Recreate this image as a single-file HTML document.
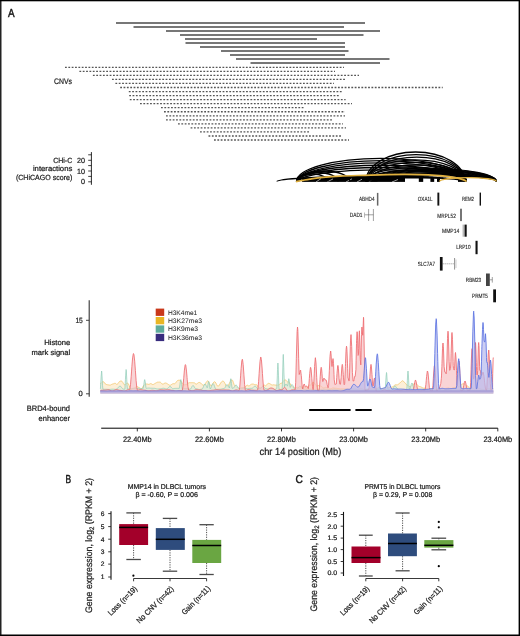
<!DOCTYPE html>
<html><head><meta charset="utf-8"><style>
html,body{margin:0;padding:0;background:#fff;}
svg{display:block;will-change:transform;}
text{font-family:"Liberation Sans", sans-serif;text-rendering:geometricPrecision;stroke:#1a1a1a;stroke-width:0.22px;}
</style></head><body>
<svg width="520" height="636" viewBox="0 0 520 636">
<rect x="0" y="0" width="520" height="636" fill="#fff"/>
<rect x="0" y="0" width="1.5" height="636" fill="#222"/>
<rect x="0" y="0" width="520" height="1.3" fill="#000"/>
<rect x="518.6" y="0" width="1.4" height="636" fill="#000"/>
<rect x="0" y="634.5" width="520" height="1.5" fill="#000"/>
<text x="8" y="17" font-size="11.5" text-anchor="start" fill="#111" textLength="6.6" lengthAdjust="spacingAndGlyphs" style="stroke-width:0.45px">A</text>
<line x1="116" y1="23" x2="365" y2="23" stroke="#4a4a4a" stroke-width="1.3"/>
<line x1="133.5" y1="27" x2="344" y2="27" stroke="#4a4a4a" stroke-width="1.3"/>
<line x1="166" y1="31" x2="380" y2="31" stroke="#4a4a4a" stroke-width="1.3"/>
<line x1="180" y1="35" x2="363.5" y2="35" stroke="#4a4a4a" stroke-width="1.3"/>
<line x1="185" y1="39" x2="317" y2="39" stroke="#4a4a4a" stroke-width="1.3"/>
<line x1="185.5" y1="43" x2="345" y2="43" stroke="#4a4a4a" stroke-width="1.3"/>
<line x1="200" y1="47" x2="345" y2="47" stroke="#4a4a4a" stroke-width="1.3"/>
<line x1="221" y1="51" x2="348.5" y2="51" stroke="#4a4a4a" stroke-width="1.3"/>
<line x1="230" y1="55" x2="345" y2="55" stroke="#4a4a4a" stroke-width="1.3"/>
<line x1="236" y1="59" x2="389.5" y2="59" stroke="#4a4a4a" stroke-width="1.3"/>
<line x1="250.5" y1="63" x2="380" y2="63" stroke="#4a4a4a" stroke-width="1.3"/>
<line x1="65" y1="67.30" x2="344" y2="67.30" stroke="#555" stroke-width="1.3" stroke-dasharray="1.8 1.55"/>
<line x1="79.4" y1="71.34" x2="335" y2="71.34" stroke="#555" stroke-width="1.3" stroke-dasharray="1.8 1.55"/>
<line x1="92.9" y1="75.38" x2="359" y2="75.38" stroke="#555" stroke-width="1.3" stroke-dasharray="1.8 1.55"/>
<line x1="112" y1="79.42" x2="345" y2="79.42" stroke="#555" stroke-width="1.3" stroke-dasharray="1.8 1.55"/>
<line x1="115.4" y1="83.46" x2="334" y2="83.46" stroke="#555" stroke-width="1.3" stroke-dasharray="1.8 1.55"/>
<line x1="120.2" y1="87.50" x2="442.7" y2="87.50" stroke="#555" stroke-width="1.3" stroke-dasharray="1.8 1.55"/>
<line x1="128.8" y1="91.54" x2="342" y2="91.54" stroke="#555" stroke-width="1.3" stroke-dasharray="1.8 1.55"/>
<line x1="129.2" y1="95.58" x2="339" y2="95.58" stroke="#555" stroke-width="1.3" stroke-dasharray="1.8 1.55"/>
<line x1="129.8" y1="99.62" x2="345.6" y2="99.62" stroke="#555" stroke-width="1.3" stroke-dasharray="1.8 1.55"/>
<line x1="140" y1="103.66" x2="352" y2="103.66" stroke="#555" stroke-width="1.3" stroke-dasharray="1.8 1.55"/>
<line x1="161" y1="107.70" x2="304" y2="107.70" stroke="#555" stroke-width="1.3" stroke-dasharray="1.8 1.55"/>
<line x1="164" y1="111.74" x2="345" y2="111.74" stroke="#555" stroke-width="1.3" stroke-dasharray="1.8 1.55"/>
<line x1="166" y1="115.78" x2="345" y2="115.78" stroke="#555" stroke-width="1.3" stroke-dasharray="1.8 1.55"/>
<line x1="166" y1="119.82" x2="332" y2="119.82" stroke="#555" stroke-width="1.3" stroke-dasharray="1.8 1.55"/>
<line x1="178" y1="123.86" x2="343" y2="123.86" stroke="#555" stroke-width="1.3" stroke-dasharray="1.8 1.55"/>
<line x1="190.6" y1="127.90" x2="346" y2="127.90" stroke="#555" stroke-width="1.3" stroke-dasharray="1.8 1.55"/>
<line x1="200" y1="131.94" x2="309" y2="131.94" stroke="#555" stroke-width="1.3" stroke-dasharray="1.8 1.55"/>
<line x1="208.5" y1="135.98" x2="342" y2="135.98" stroke="#555" stroke-width="1.3" stroke-dasharray="1.8 1.55"/>
<line x1="214" y1="140.02" x2="349" y2="140.02" stroke="#555" stroke-width="1.3" stroke-dasharray="1.8 1.55"/>
<text x="54" y="83.75" font-size="8" text-anchor="start" fill="#222" textLength="18" lengthAdjust="spacingAndGlyphs" >CNVs</text>
<text x="72.2" y="163" font-size="7.5" text-anchor="end" fill="#222" textLength="19" lengthAdjust="spacingAndGlyphs" >CHi-C</text>
<text x="72.3" y="171.2" font-size="7.5" text-anchor="end" fill="#222" textLength="39.4" lengthAdjust="spacingAndGlyphs" >interactions</text>
<text x="72.3" y="179.6" font-size="7.5" text-anchor="end" fill="#222" textLength="56.4" lengthAdjust="spacingAndGlyphs" >(CHiCAGO score)</text>
<text x="85" y="163" font-size="7.5" text-anchor="end" fill="#222" textLength="8" lengthAdjust="spacingAndGlyphs" >20</text>
<text x="85" y="173.6" font-size="7.5" text-anchor="end" fill="#222" textLength="8" lengthAdjust="spacingAndGlyphs" >10</text>
<text x="85" y="184.4" font-size="7.5" text-anchor="end" fill="#222" textLength="4" lengthAdjust="spacingAndGlyphs" >0</text>
<line x1="91.4" y1="152.1" x2="91.4" y2="184.8" stroke="#111" stroke-width="0.9"/>
<line x1="88.2" y1="154.8" x2="91.4" y2="154.8" stroke="#111" stroke-width="0.8"/>
<line x1="88.2" y1="160.3" x2="91.4" y2="160.3" stroke="#111" stroke-width="0.8"/>
<line x1="88.2" y1="165.6" x2="91.4" y2="165.6" stroke="#111" stroke-width="0.8"/>
<line x1="88.2" y1="171" x2="91.4" y2="171" stroke="#111" stroke-width="0.8"/>
<line x1="88.2" y1="176.4" x2="91.4" y2="176.4" stroke="#111" stroke-width="0.8"/>
<line x1="88.2" y1="181.8" x2="91.4" y2="181.8" stroke="#111" stroke-width="0.8"/>
<path d="M299.0,180.36 L299.5,180.22 L300.0,180.08 L300.5,179.96 L301.0,179.84 L301.5,179.73 L302.0,179.62 L302.5,179.52 L303.0,179.43 L303.5,179.33 L304.0,179.24 L304.5,179.16 L305.0,179.07 L305.5,178.99 L306.0,178.91 L306.5,178.84 L307.0,178.77 L307.5,178.69 L308.0,178.62 L308.5,178.56 L309.0,178.49 L309.5,178.42 L310.0,178.36 L310.5,178.30 L311.0,178.24 L311.5,178.18 L312.0,178.12 L312.5,178.07 L313.0,178.01 L313.5,177.96 L314.0,177.90 L314.5,177.85 L315.0,177.80 L315.5,177.75 L316.0,177.70 L316.5,177.65 L317.0,177.60 L317.5,177.56 L318.0,177.51 L318.5,177.47 L319.0,177.42 L319.5,177.38 L320.0,177.34 L320.5,177.30 L321.0,177.25 L321.5,177.21 L322.0,177.17 L322.5,177.13 L323.0,177.10 L323.5,177.06 L324.0,177.02 L324.5,176.98 L325.0,176.95 L325.5,176.91 L326.0,176.88 L326.5,176.84 L327.0,176.81 L327.5,176.77 L328.0,176.74 L328.5,176.71 L329.0,176.68 L329.5,176.64 L330.0,176.61 L330.5,176.58 L331.0,176.55 L331.5,176.52 L332.0,176.49 L332.5,176.46 L333.0,176.44 L333.5,176.41 L334.0,176.38 L334.5,176.35 L335.0,176.33 L335.5,176.30 L336.0,176.27 L336.5,176.25 L337.0,176.22 L337.5,176.20 L338.0,176.17 L338.5,176.15 L339.0,176.13 L339.5,176.10 L340.0,176.08 L340.5,176.06 L341.0,176.04 L341.5,176.01 L342.0,175.99 L342.5,175.97 L343.0,175.95 L343.5,175.93 L344.0,175.91 L344.5,175.89 L345.0,175.87 L345.5,175.85 L346.0,175.83 L346.5,175.81 L347.0,175.80 L347.5,175.78 L348.0,175.76 L348.5,175.74 L349.0,175.73 L349.5,175.71 L350.0,175.69 L350.5,175.68 L351.0,175.66 L351.5,175.65 L352.0,175.63 L352.5,175.61 L353.0,175.60 L353.5,175.59 L354.0,175.57 L354.5,175.56 L355.0,175.54 L355.5,175.53 L356.0,175.52 L356.5,175.51 L357.0,175.49 L357.5,175.48 L358.0,175.47 L358.5,175.46 L359.0,175.45 L359.5,175.44 L360.0,175.42 L360.5,175.41 L361.0,175.40 L361.5,175.39 L362.0,175.38 L362.5,175.38 L363.0,175.37 L363.5,175.36 L364.0,175.35 L364.5,175.34 L365.0,175.33 L365.5,175.32 L366.0,175.32 L366.5,175.31 L367.0,175.30 L367.5,175.29 L368.0,175.29 L368.5,175.28 L369.0,175.28 L369.5,175.27 L370.0,175.26 L370.5,175.26 L371.0,175.25 L371.5,175.25 L372.0,175.24 L372.5,175.24 L373.0,175.23 L373.5,175.23 L374.0,175.23 L374.5,175.22 L375.0,175.22 L375.5,175.22 L376.0,175.21 L376.5,175.21 L377.0,175.21 L377.5,175.21 L378.0,175.21 L378.5,175.20 L379.0,175.20 L379.5,175.20 L380.0,175.20 L380.5,175.20 L381.0,175.20 L381.5,175.20 L382.0,175.20 L382.5,175.20 L383.0,175.20 L383.5,175.20 L384.0,175.20 L384.5,175.20 L385.0,175.21 L385.5,175.21 L386.0,175.21 L386.5,175.21 L387.0,175.21 L387.5,175.22 L388.0,175.22 L388.5,175.22 L389.0,175.23 L389.5,175.23 L390.0,175.23 L390.5,175.24 L391.0,175.24 L391.5,175.25 L392.0,175.25 L392.5,175.26 L393.0,175.26 L393.5,175.27 L394.0,175.28 L394.5,175.28 L395.0,175.29 L395.5,175.29 L396.0,175.30 L396.5,175.31 L397.0,175.32 L397.5,175.32 L398.0,175.33 L398.5,175.34 L399.0,175.35 L399.5,175.36 L400.0,175.37 L400.5,175.38 L401.0,175.38 L401.5,175.39 L402.0,175.40 L402.5,175.41 L403.0,175.42 L403.5,175.44 L404.0,175.45 L404.5,175.46 L405.0,175.47 L405.5,175.48 L406.0,175.49 L406.5,175.51 L407.0,175.52 L407.5,175.53 L408.0,175.54 L408.5,175.56 L409.0,175.57 L409.5,175.59 L410.0,175.60 L410.5,175.61 L411.0,175.63 L411.5,175.65 L412.0,175.66 L412.5,175.68 L413.0,175.69 L413.5,175.71 L414.0,175.73 L414.5,175.74 L415.0,175.76 L415.5,175.78 L416.0,175.80 L416.5,175.81 L417.0,175.83 L417.5,175.85 L418.0,175.87 L418.5,175.89 L419.0,175.91 L419.5,175.93 L420.0,175.95 L420.5,175.97 L421.0,175.99 L421.5,176.01 L422.0,176.04 L422.5,176.06 L423.0,176.08 L423.5,176.10 L424.0,176.13 L424.5,176.15 L425.0,176.17 L425.5,176.20 L426.0,176.22 L426.5,176.25 L427.0,176.27 L427.5,176.30 L428.0,176.33 L428.5,176.35 L429.0,176.38 L429.5,176.41 L430.0,176.44 L430.5,176.46 L431.0,176.49 L431.5,176.52 L432.0,176.55 L432.5,176.58 L433.0,176.61 L433.5,176.64 L434.0,176.68 L434.5,176.71 L435.0,176.74 L435.5,176.77 L436.0,176.81 L436.5,176.84 L437.0,176.88 L437.5,176.91 L438.0,176.95 L438.5,176.98 L439.0,177.02 L439.5,177.06 L440.0,177.10 L440.5,177.13 L441.0,177.17 L441.5,177.21 L442.0,177.25 L442.5,177.30 L443.0,177.34 L443.5,177.38 L444.0,177.42 L444.5,177.47 L445.0,177.51 L445.5,177.56 L446.0,177.60 L446.5,177.65 L447.0,177.70 L447.5,177.75 L448.0,177.80 L448.5,177.85 L449.0,177.90 L449.5,177.96 L450.0,178.01 L450.5,178.07 L451.0,178.12 L451.5,178.18 L452.0,178.24 L452.5,178.30 L453.0,178.36 L453.5,178.42 L454.0,178.49 L454.5,178.56 L455.0,178.62 L455.5,178.69 L456.0,178.77 L456.5,178.84 L457.0,178.91 L457.5,178.99 L458.0,179.07 L458.5,179.16 L459.0,179.24 L459.5,179.33 L460.0,179.43 L460.5,179.52 L461.0,179.62 L461.5,179.73 L462.0,179.84 L462.5,179.96 L463.0,180.08 L463.5,180.22 L464.0,180.36 L464.5,180.52 L465.0,180.69 L465.5,180.89 L466.0,181.13 L466.5,181.44 L467.0,182.20 L467,178.6 L299,178.6 Z" fill="#000"/>
<rect x="302" y="177.5" width="103" height="4.4" fill="#000"/>
<rect x="418.8" y="177.5" width="4.399999999999977" height="4.4" fill="#000"/>
<rect x="430.4" y="177.5" width="3.8000000000000114" height="4.4" fill="#000"/>
<rect x="437" y="177.5" width="3" height="4.4" fill="#000"/>
<rect x="458" y="177.5" width="8" height="4.4" fill="#000"/>
<line x1="316" y1="182" x2="321" y2="178.6" stroke="#fff" stroke-width="0.6"/>
<line x1="327" y1="182" x2="333" y2="178.9" stroke="#fff" stroke-width="0.6"/>
<line x1="346" y1="182" x2="352" y2="178.8" stroke="#fff" stroke-width="0.6"/>
<line x1="357" y1="182" x2="362" y2="179.2" stroke="#fff" stroke-width="0.6"/>
<line x1="368" y1="182" x2="374" y2="179" stroke="#fff" stroke-width="0.6"/>
<line x1="392" y1="182" x2="398" y2="179.5" stroke="#fff" stroke-width="0.6"/>
<path d="M366.0,181.6 A65.25,13.10 0 0 1 496.5,181.6" fill="none" stroke="#000" stroke-width="1.2" stroke-opacity="1"/>
<path d="M367.2,181.6 A64.65,12.30 0 0 1 496.5,181.6" fill="none" stroke="#000" stroke-width="1.2" stroke-opacity="1"/>
<path d="M368.4,181.6 A64.05,11.50 0 0 1 496.5,181.6" fill="none" stroke="#000" stroke-width="1.2" stroke-opacity="1"/>
<path d="M369.6,181.6 A63.45,10.70 0 0 1 496.5,181.6" fill="none" stroke="#000" stroke-width="1.2" stroke-opacity="1"/>
<path d="M370.8,181.6 A62.85,9.90 0 0 1 496.5,181.6" fill="none" stroke="#000" stroke-width="1.2" stroke-opacity="1"/>
<path d="M372.0,181.6 A62.25,9.10 0 0 1 496.5,181.6" fill="none" stroke="#000" stroke-width="1.2" stroke-opacity="1"/>
<path d="M373.2,181.6 A61.65,8.30 0 0 1 496.5,181.6" fill="none" stroke="#000" stroke-width="1.2" stroke-opacity="1"/>
<path d="M374.4,181.6 A61.05,7.50 0 0 1 496.5,181.6" fill="none" stroke="#000" stroke-width="1.2" stroke-opacity="1"/>
<path d="M375.6,181.6 A60.45,6.70 0 0 1 496.5,181.6" fill="none" stroke="#000" stroke-width="1.2" stroke-opacity="1"/>
<path d="M376.8,181.6 A59.85,5.90 0 0 1 496.5,181.6" fill="none" stroke="#000" stroke-width="1.2" stroke-opacity="1"/>
<path d="M296.5,181.6 A84.25,23.30 0 0 1 465,181.6" fill="none" stroke="#000" stroke-width="1.35" stroke-opacity="1"/>
<path d="M297.5,181.6 A83.75,21.00 0 0 1 465,181.6" fill="none" stroke="#000" stroke-width="1.35" stroke-opacity="1"/>
<path d="M298.5,181.6 A83.25,18.70 0 0 1 465,181.6" fill="none" stroke="#000" stroke-width="1.35" stroke-opacity="1"/>
<path d="M296.5,181.6 A84.25,16.40 0 0 1 465,181.6" fill="none" stroke="#000" stroke-width="1.35" stroke-opacity="1"/>
<path d="M297.5,181.6 A83.75,14.10 0 0 1 465,181.6" fill="none" stroke="#000" stroke-width="1.35" stroke-opacity="1"/>
<path d="M298.5,181.6 A83.25,11.80 0 0 1 465,181.6" fill="none" stroke="#000" stroke-width="1.35" stroke-opacity="1"/>
<path d="M366.0,181.6 A49.50,29.60 0 0 1 465,181.6" fill="none" stroke="#000" stroke-width="1.3" stroke-opacity="1"/>
<path d="M367.2,181.6 A48.90,27.00 0 0 1 465,181.6" fill="none" stroke="#000" stroke-width="1.3" stroke-opacity="1"/>
<path d="M368.4,181.6 A48.30,24.40 0 0 1 465,181.6" fill="none" stroke="#000" stroke-width="1.3" stroke-opacity="1"/>
<path d="M366.0,181.6 A49.50,21.80 0 0 1 465,181.6" fill="none" stroke="#000" stroke-width="1.3" stroke-opacity="1"/>
<path d="M367.2,181.6 A48.90,19.20 0 0 1 465,181.6" fill="none" stroke="#000" stroke-width="1.3" stroke-opacity="1"/>
<path d="M368.4,181.6 A48.30,16.60 0 0 1 465,181.6" fill="none" stroke="#000" stroke-width="1.3" stroke-opacity="1"/>
<path d="M366.0,181.6 A49.50,14.00 0 0 1 465,181.6" fill="none" stroke="#000" stroke-width="1.3" stroke-opacity="1"/>
<path d="M367.2,181.6 A48.90,11.40 0 0 1 465,181.6" fill="none" stroke="#000" stroke-width="1.3" stroke-opacity="1"/>
<path d="M277,181.6 A94.00,5.10 0 0 1 465,181.6" fill="none" stroke="#000" stroke-width="1.3" stroke-opacity="1"/>
<path d="M297,181.6 A15.50,7.60 0 0 1 328,181.6" fill="none" stroke="#000" stroke-width="1.3" stroke-opacity="1"/>
<path d="M297,181.6 A20.50,9.10 0 0 1 338,181.6" fill="none" stroke="#000" stroke-width="1.3" stroke-opacity="1"/>
<path d="M298,181.6 A26.00,10.60 0 0 1 350,181.6" fill="none" stroke="#000" stroke-width="1.3" stroke-opacity="1"/>
<path d="M296,181.6 C297.17,181.38 300.67,180.72 303,180.3 C305.33,179.88 306.67,179.58 310,179.1 C313.33,178.62 318.00,177.90 323,177.4 C328.00,176.90 333.00,176.45 340,176.1 C347.00,175.75 358.33,175.52 365,175.3 C371.67,175.08 373.33,174.95 380,174.8 C386.67,174.65 398.33,174.42 405,174.4 C411.67,174.38 415.00,174.53 420,174.7 C425.00,174.87 430.17,175.08 435,175.4 C439.83,175.72 445.17,176.15 449,176.6 C452.83,177.05 455.67,177.60 458,178.1 C460.33,178.60 461.58,179.05 463,179.6 C464.42,180.15 465.92,181.10 466.5,181.4" fill="none" stroke="#e0b03e" stroke-width="1.7"/>
<path d="M439.5,181.6 A28.50,4.00 0 0 1 496.5,181.6" fill="none" stroke="#e0b03e" stroke-width="1.4" stroke-opacity="1"/>
<text x="359" y="200.95" font-size="6.0" text-anchor="start" fill="#222" textLength="15.6" lengthAdjust="spacingAndGlyphs" style="stroke-width:0.12px">ABHD4</text>
<rect x="376.9" y="192.9" width="1.5" height="12.699999999999989" fill="#666"/>
<text x="417.8" y="200.95" font-size="6.0" text-anchor="start" fill="#222" textLength="14.7" lengthAdjust="spacingAndGlyphs" style="stroke-width:0.12px">OXA1L</text>
<rect x="437.4" y="192.6" width="1.900000000000034" height="13.0" fill="#111"/>
<text x="461.9" y="200.95" font-size="6.0" text-anchor="start" fill="#222" textLength="12.1" lengthAdjust="spacingAndGlyphs" style="stroke-width:0.12px">REM2</text>
<rect x="479.6" y="192.6" width="1.3999999999999773" height="13.0" fill="#111"/>
<text x="437.3" y="217.54999999999998" font-size="6.0" text-anchor="start" fill="#222" textLength="18.5" lengthAdjust="spacingAndGlyphs" style="stroke-width:0.12px">MRPL52</text>
<rect x="460.2" y="208.7" width="1.6000000000000227" height="12.400000000000006" fill="#555"/>
<text x="442" y="233.45" font-size="6.0" text-anchor="start" fill="#222" textLength="17.3" lengthAdjust="spacingAndGlyphs" style="stroke-width:0.12px">MMP14</text>
<rect x="464.5" y="224.6" width="2.1999999999999886" height="12.099999999999994" fill="#111"/>
<line x1="463.2" y1="224.6" x2="463.2" y2="236.7" stroke="#333" stroke-width="0.5"/>
<text x="456.2" y="249.45" font-size="6.0" text-anchor="start" fill="#222" textLength="14.4" lengthAdjust="spacingAndGlyphs" style="stroke-width:0.12px">LRP10</text>
<rect x="475.5" y="240.8" width="2.1000000000000227" height="13.399999999999977" fill="#111"/>
<text x="417.7" y="265.75" font-size="6.0" text-anchor="start" fill="#222" textLength="17.3" lengthAdjust="spacingAndGlyphs" style="stroke-width:0.12px">SLC7A7</text>
<rect x="439.9" y="257" width="2.7000000000000455" height="13.600000000000023" fill="#111"/>
<line x1="442.6" y1="263.8" x2="454.6" y2="263.8" stroke="#444" stroke-width="0.5" stroke-dasharray="1.2 0.8"/>
<line x1="454.6" y1="258" x2="454.6" y2="269.6" stroke="#444" stroke-width="0.6"/>
<line x1="456" y1="259.5" x2="456" y2="268" stroke="#999" stroke-width="0.5"/>
<text x="465.8" y="281.75" font-size="6.0" text-anchor="start" fill="#222" textLength="15.4" lengthAdjust="spacingAndGlyphs" style="stroke-width:0.12px">RBM23</text>
<rect x="486" y="273.5" width="3.8000000000000114" height="12.5" fill="#444"/>
<line x1="489.8" y1="279.8" x2="492.3" y2="279.8" stroke="#444" stroke-width="0.5"/>
<line x1="492.3" y1="277" x2="492.3" y2="282.6" stroke="#444" stroke-width="0.5"/>
<text x="472" y="297.95" font-size="6.0" text-anchor="start" fill="#222" textLength="16" lengthAdjust="spacingAndGlyphs" style="stroke-width:0.12px">PRMT5</text>
<rect x="493.2" y="289.4" width="2.8000000000000114" height="12.900000000000034" fill="#111"/>
<text x="349.8" y="216.7" font-size="6.0" text-anchor="start" fill="#222" textLength="12.7" lengthAdjust="spacingAndGlyphs" style="stroke-width:0.12px">DAD1</text>
<line x1="364.5" y1="212.5" x2="364.5" y2="217.7" stroke="#888" stroke-width="0.6"/>
<line x1="364.8" y1="214.8" x2="373.4" y2="214.8" stroke="#444" stroke-width="0.5"/>
<line x1="368.6" y1="209" x2="368.6" y2="221" stroke="#444" stroke-width="0.5"/>
<line x1="373.4" y1="209" x2="373.4" y2="221" stroke="#444" stroke-width="0.5"/>
<text x="70.2" y="345.4" font-size="7.5" text-anchor="end" fill="#222" textLength="26" lengthAdjust="spacingAndGlyphs" >Histone</text>
<text x="70.2" y="354.6" font-size="7.5" text-anchor="end" fill="#222" textLength="38.7" lengthAdjust="spacingAndGlyphs" >mark signal</text>
<line x1="89.2" y1="300.2" x2="89.2" y2="396.8" stroke="#333" stroke-width="1.1"/>
<line x1="86" y1="320.3" x2="89.2" y2="320.3" stroke="#333" stroke-width="0.9"/>
<line x1="86" y1="393.8" x2="89.2" y2="393.8" stroke="#333" stroke-width="0.9"/>
<text x="82.8" y="322.9" font-size="7.5" text-anchor="end" fill="#222" textLength="7.4" lengthAdjust="spacingAndGlyphs" >15</text>
<text x="82.8" y="396.4" font-size="7.5" text-anchor="end" fill="#222" textLength="4.2" lengthAdjust="spacingAndGlyphs" >0</text>
<rect x="155.7" y="308.6" width="8.5" height="7.3" fill="#c9381a"/>
<text x="167.9" y="314.5" font-size="6.6" text-anchor="start" fill="#2a2a2a" textLength="29.4" lengthAdjust="spacingAndGlyphs" style="stroke-width:0.05px">H3K4me1</text>
<rect x="155.7" y="317.0" width="8.5" height="7.3" fill="#e9b625"/>
<text x="167.9" y="322.85" font-size="6.6" text-anchor="start" fill="#2a2a2a" textLength="34.1" lengthAdjust="spacingAndGlyphs" style="stroke-width:0.05px">H3K27me3</text>
<rect x="155.7" y="325.4" width="8.5" height="7.3" fill="#5fac9c"/>
<text x="167.9" y="331.2" font-size="6.6" text-anchor="start" fill="#2a2a2a" textLength="30" lengthAdjust="spacingAndGlyphs" style="stroke-width:0.05px">H3K9me3</text>
<rect x="155.7" y="333.8" width="8.5" height="7.3" fill="#382c7e"/>
<text x="167.9" y="339.55" font-size="6.6" text-anchor="start" fill="#2a2a2a" textLength="34.1" lengthAdjust="spacingAndGlyphs" style="stroke-width:0.05px">H3K36me3</text>
<path d="M100.40,383.48 L101.10,383.17 L101.80,382.46 L102.50,381.79 L103.20,381.60 L103.90,382.06 L104.60,382.95 L105.30,383.86 L106.00,384.36 L106.70,384.58 L107.40,384.76 L108.10,384.85 L108.80,384.95 L109.50,385.06 L110.20,385.13 L110.90,384.87 L111.60,384.41 L112.30,384.12 L113.00,383.97 L113.70,383.69 L114.40,383.38 L115.10,383.21 L115.80,383.64 L116.50,384.29 L117.20,384.34 L117.90,383.66 L118.60,382.62 L119.30,381.71 L120.00,381.25 L120.70,381.02 L121.40,381.04 L122.10,381.41 L122.80,382.40 L123.50,383.75 L124.20,384.73 L124.90,384.88 L125.60,384.37 L126.30,383.65 L127.00,383.20 L127.70,383.19 L128.40,383.75 L129.10,385.45 L129.80,387.49 L130.50,388.86 L131.20,389.00 L131.90,388.88 L132.60,388.83 L133.30,388.73 L134.00,388.50 L134.70,388.00 L135.40,387.27 L136.10,386.68 L136.80,386.51 L137.50,386.75 L138.20,387.14 L138.90,387.48 L139.60,387.94 L140.30,388.46 L141.00,388.73 L141.70,388.45 L142.40,387.58 L143.10,386.43 L143.80,385.38 L144.50,384.61 L145.20,384.15 L145.90,383.99 L146.60,384.00 L147.30,384.06 L148.00,384.20 L148.70,384.36 L149.40,384.16 L150.10,383.79 L150.80,383.62 L151.50,383.87 L152.20,384.35 L152.90,384.59 L153.60,384.34 L154.30,383.89 L155.00,383.43 L155.70,383.09 L156.40,382.72 L157.10,382.32 L157.80,382.11 L158.50,382.13 L159.20,382.10 L159.90,382.14 L160.60,382.35 L161.30,383.01 L162.00,383.81 L162.70,384.19 L163.40,383.98 L164.10,383.52 L164.80,383.10 L165.50,382.98 L166.20,383.14 L166.90,383.52 L167.60,383.96 L168.30,384.43 L169.00,384.92 L169.70,385.22 L170.40,385.20 L171.10,384.85 L171.80,384.34 L172.50,383.89 L173.20,383.67 L173.90,383.72 L174.60,383.75 L175.30,383.33 L176.00,382.41 L176.70,381.38 L177.40,380.65 L178.10,380.31 L178.80,380.24 L179.50,380.22 L180.20,380.26 L180.90,380.96 L181.60,382.17 L182.30,383.43 L183.00,384.25 L183.70,384.66 L184.40,384.81 L185.10,384.71 L185.80,384.58 L186.50,384.45 L187.20,384.26 L187.90,383.62 L188.60,382.93 L189.30,382.69 L190.00,382.70 L190.70,382.71 L191.40,382.70 L192.10,382.68 L192.80,382.71 L193.50,382.75 L194.20,382.77 L194.90,383.20 L195.60,383.83 L196.30,384.10 L197.00,383.80 L197.70,383.18 L198.40,382.63 L199.10,382.45 L199.80,382.52 L200.50,382.83 L201.20,383.54 L201.90,384.33 L202.60,384.88 L203.30,385.10 L204.00,384.97 L204.70,384.43 L205.40,383.54 L206.10,382.44 L206.80,381.44 L207.50,380.87 L208.20,381.05 L208.90,382.23 L209.60,383.83 L210.30,385.17 L211.00,385.71 L211.70,385.42 L212.40,384.50 L213.10,383.22 L213.80,382.10 L214.50,381.67 L215.20,382.05 L215.90,383.07 L216.60,384.52 L217.30,385.80 L218.00,386.31 L218.70,385.97 L219.40,385.07 L220.10,383.89 L220.80,382.75 L221.50,381.87 L222.20,381.31 L222.90,381.06 L223.60,381.31 L224.30,382.22 L225.00,383.57 L225.70,384.98 L226.40,386.06 L227.10,386.45 L227.80,386.10 L228.50,385.06 L229.20,383.62 L229.90,382.24 L230.60,381.08 L231.30,380.06 L232.00,379.69 L232.70,380.59 L233.40,382.56 L234.10,384.62 L234.80,385.68 L235.50,385.89 L236.20,386.51 L236.90,387.34 L237.60,388.04 L238.30,388.36 L239.00,388.32 L239.70,388.28 L240.40,388.09 L241.10,387.75 L241.80,387.52 L242.50,387.50 L243.20,387.59 L243.90,387.70 L244.60,387.61 L245.30,386.99 L246.00,386.07 L246.70,385.36 L247.40,385.20 L248.10,385.62 L248.80,385.94 L249.50,385.68 L250.20,385.10 L250.90,384.51 L251.60,384.18 L252.30,384.05 L253.00,384.00 L253.70,384.17 L254.40,384.52 L255.10,384.70 L255.80,384.68 L256.50,384.69 L257.20,385.33 L257.90,386.41 L258.60,387.27 L259.30,387.63 L260.00,387.84 L260.70,387.88 L261.40,387.68 L262.10,386.86 L262.80,385.74 L263.50,384.99 L264.20,384.98 L264.90,385.48 L265.60,385.85 L266.30,385.40 L267.00,384.48 L267.70,383.63 L268.40,383.32 L269.10,383.44 L269.80,383.70 L270.50,384.11 L271.20,384.60 L271.90,384.92 L272.60,384.99 L273.30,384.85 L274.00,384.83 L274.70,384.98 L275.40,385.08 L276.10,385.06 L276.80,385.14 L277.50,385.22 L278.20,385.22 L278.90,384.73 L279.60,384.00 L280.30,383.55 L281.00,383.32 L281.70,383.06 L282.40,382.57 L283.10,381.72 L283.80,380.69 L284.50,379.92 L285.20,379.76 L285.90,380.24 L286.60,381.11 L287.30,381.79 L288.00,381.88 L288.70,381.93 L289.40,382.50 L290.10,383.59 L290.80,385.01 L291.50,386.25 L292.20,386.75 L292.90,386.94 L293.60,387.31 L294.30,387.74 L295.00,388.05 L295.70,387.95 L296.40,387.54 L297.10,387.26 L297.80,387.33 L298.50,387.66 L299.20,387.96 L299.90,387.95 L300.60,387.51 L301.30,387.00 L302.00,386.87 L302.70,386.95 L303.40,386.93 L304.10,386.94 L304.80,387.13 L305.50,387.59 L306.20,388.03 L306.90,387.96 L307.60,387.22 L308.30,386.18 L309.00,385.38 L309.70,385.12 L310.40,385.12 L311.10,384.57 L311.80,383.57 L312.50,382.68 L313.20,382.27 L313.90,382.43 L314.60,383.16 L315.30,384.37 L316.00,385.53 L316.70,386.12 L317.40,385.90 L318.10,385.59 L318.80,385.58 L319.50,385.75 L320.20,385.89 L320.90,386.04 L321.60,386.33 L322.30,387.06 L323.00,387.79 L323.70,388.05 L324.40,387.83 L325.10,387.41 L325.80,387.19 L326.50,387.41 L327.20,388.03 L327.90,388.64 L328.60,388.85 L329.30,388.86 L330.00,388.82 L330.70,388.80 L331.40,388.67 L332.10,388.26 L332.80,387.92 L333.50,387.90 L334.20,388.00 L334.90,388.13 L335.60,388.22 L336.30,388.29 L337.00,388.39 L337.70,388.47 L338.40,388.53 L339.10,388.64 L339.80,388.75 L340.50,388.79 L341.20,388.78 L341.90,388.76 L342.60,388.77 L343.30,388.81 L344.00,388.83 L344.70,388.85 L345.40,388.90 L346.10,388.99 L346.80,389.09 L347.50,389.17 L348.20,389.30 L348.90,389.59 L349.60,389.84 L350.30,389.85 L351.00,389.56 L351.70,389.18 L352.40,389.01 L353.10,388.98 L353.80,388.92 L354.50,388.87 L355.20,388.90 L355.90,389.11 L356.60,389.36 L357.30,389.44 L358.00,389.20 L358.70,388.77 L359.40,388.49 L360.10,388.49 L360.80,388.54 L361.50,388.59 L362.20,388.63 L362.90,389.02 L363.60,389.62 L364.30,389.95 L365.00,389.82 L365.70,389.44 L366.40,389.10 L367.10,389.04 L367.80,389.06 L368.50,389.09 L369.20,389.10 L369.90,388.89 L370.60,388.42 L371.30,388.04 L372.00,388.03 L372.70,388.29 L373.40,388.58 L374.10,388.65 L374.80,388.68 L375.50,388.77 L376.20,388.81 L376.90,388.65 L377.60,388.17 L378.30,387.69 L379.00,387.57 L379.70,387.91 L380.40,388.43 L381.10,388.70 L381.80,388.66 L382.50,388.60 L383.20,388.53 L383.90,388.39 L384.60,387.90 L385.30,387.30 L386.00,386.97 L386.70,387.09 L387.40,387.49 L388.10,387.80 L388.80,387.77 L389.50,387.62 L390.20,387.47 L390.90,387.30 L391.60,387.13 L392.30,386.93 L393.00,386.60 L393.70,386.09 L394.40,385.45 L395.10,384.91 L395.80,384.72 L396.50,384.86 L397.20,384.90 L397.90,384.61 L398.60,384.04 L399.30,383.43 L400.00,382.85 L400.70,382.31 L401.40,381.53 L402.10,380.83 L402.80,380.76 L403.50,381.28 L404.20,382.01 L404.90,382.80 L405.60,383.57 L406.30,384.49 L407.00,385.17 L407.70,385.43 L408.40,385.77 L409.10,386.29 L409.80,386.71 L410.50,386.74 L411.20,386.20 L411.90,385.40 L412.60,384.78 L413.30,384.29 L414.00,383.88 L414.70,383.56 L415.40,383.45 L416.10,383.76 L416.80,384.41 L417.50,385.18 L418.20,385.82 L418.90,386.28 L419.60,386.58 L420.30,386.68 L421.00,386.92 L421.70,387.30 L422.40,387.70 L423.10,388.00 L423.80,388.13 L424.50,388.13 L425.20,388.20 L425.90,388.32 L426.60,388.43 L427.30,388.57 L428.00,388.84 L428.70,389.09 L429.40,389.17 L430.10,389.01 L430.80,388.75 L431.50,388.60 L432.20,388.62 L432.90,388.69 L433.60,388.74 L434.30,388.78 L435.00,389.05 L435.70,389.39 L436.40,389.54 L437.10,389.25 L437.80,388.61 L438.50,388.11 L439.20,388.13 L439.90,388.53 L440.60,388.98 L441.30,389.12 L442.00,389.18 L442.70,389.29 L443.40,389.34 L444.10,389.21 L444.80,388.81 L445.50,388.41 L446.20,388.25 L446.90,388.13 L447.60,387.98 L448.30,387.86 L449.00,387.96 L449.70,388.38 L450.40,388.74 L451.10,388.72 L451.80,388.30 L452.50,387.77 L453.20,387.51 L453.90,387.47 L454.60,387.41 L455.30,387.37 L456.00,387.29 L456.70,387.25 L457.40,387.13 L458.10,386.81 L458.80,386.50 L459.50,386.27 L460.20,385.97 L460.90,385.44 L461.60,384.63 L462.30,383.90 L463.00,383.64 L463.70,383.75 L464.40,384.18 L465.10,384.73 L465.80,385.23 L466.50,385.58 L467.20,385.69 L467.90,386.12 L468.60,387.14 L469.30,388.21 L470.00,388.67 L470.70,388.52 L471.40,388.22 L472.10,388.01 L472.80,388.11 L473.50,388.51 L474.20,388.96 L474.90,389.19 L475.60,388.96 L476.30,388.46 L477.00,388.16 L477.70,388.25 L478.40,388.44 L479.10,388.62 L479.80,388.68 L480.50,388.87 L481.20,389.14 L481.90,389.30 L482.60,389.37 L483.30,389.57 L484.00,389.74 L484.70,389.74 L485.40,389.45 L486.10,389.07 L486.80,388.90 L487.50,388.81 L488.20,388.62 L488.90,388.47 L489.60,388.44 L490.30,388.36 L491.00,388.27 L491.70,388.25 L492.40,388.45 L493.10,388.81 L493.10,393.4 L100.40,393.4 Z" fill="#fbe5bd" fill-opacity="0.6" stroke="none"/>
<path d="M100.40,383.48 L101.10,383.17 L101.80,382.46 L102.50,381.79 L103.20,381.60 L103.90,382.06 L104.60,382.95 L105.30,383.86 L106.00,384.36 L106.70,384.58 L107.40,384.76 L108.10,384.85 L108.80,384.95 L109.50,385.06 L110.20,385.13 L110.90,384.87 L111.60,384.41 L112.30,384.12 L113.00,383.97 L113.70,383.69 L114.40,383.38 L115.10,383.21 L115.80,383.64 L116.50,384.29 L117.20,384.34 L117.90,383.66 L118.60,382.62 L119.30,381.71 L120.00,381.25 L120.70,381.02 L121.40,381.04 L122.10,381.41 L122.80,382.40 L123.50,383.75 L124.20,384.73 L124.90,384.88 L125.60,384.37 L126.30,383.65 L127.00,383.20 L127.70,383.19 L128.40,383.75 L129.10,385.45 L129.80,387.49 L130.50,388.86 L131.20,389.00 L131.90,388.88 L132.60,388.83 L133.30,388.73 L134.00,388.50 L134.70,388.00 L135.40,387.27 L136.10,386.68 L136.80,386.51 L137.50,386.75 L138.20,387.14 L138.90,387.48 L139.60,387.94 L140.30,388.46 L141.00,388.73 L141.70,388.45 L142.40,387.58 L143.10,386.43 L143.80,385.38 L144.50,384.61 L145.20,384.15 L145.90,383.99 L146.60,384.00 L147.30,384.06 L148.00,384.20 L148.70,384.36 L149.40,384.16 L150.10,383.79 L150.80,383.62 L151.50,383.87 L152.20,384.35 L152.90,384.59 L153.60,384.34 L154.30,383.89 L155.00,383.43 L155.70,383.09 L156.40,382.72 L157.10,382.32 L157.80,382.11 L158.50,382.13 L159.20,382.10 L159.90,382.14 L160.60,382.35 L161.30,383.01 L162.00,383.81 L162.70,384.19 L163.40,383.98 L164.10,383.52 L164.80,383.10 L165.50,382.98 L166.20,383.14 L166.90,383.52 L167.60,383.96 L168.30,384.43 L169.00,384.92 L169.70,385.22 L170.40,385.20 L171.10,384.85 L171.80,384.34 L172.50,383.89 L173.20,383.67 L173.90,383.72 L174.60,383.75 L175.30,383.33 L176.00,382.41 L176.70,381.38 L177.40,380.65 L178.10,380.31 L178.80,380.24 L179.50,380.22 L180.20,380.26 L180.90,380.96 L181.60,382.17 L182.30,383.43 L183.00,384.25 L183.70,384.66 L184.40,384.81 L185.10,384.71 L185.80,384.58 L186.50,384.45 L187.20,384.26 L187.90,383.62 L188.60,382.93 L189.30,382.69 L190.00,382.70 L190.70,382.71 L191.40,382.70 L192.10,382.68 L192.80,382.71 L193.50,382.75 L194.20,382.77 L194.90,383.20 L195.60,383.83 L196.30,384.10 L197.00,383.80 L197.70,383.18 L198.40,382.63 L199.10,382.45 L199.80,382.52 L200.50,382.83 L201.20,383.54 L201.90,384.33 L202.60,384.88 L203.30,385.10 L204.00,384.97 L204.70,384.43 L205.40,383.54 L206.10,382.44 L206.80,381.44 L207.50,380.87 L208.20,381.05 L208.90,382.23 L209.60,383.83 L210.30,385.17 L211.00,385.71 L211.70,385.42 L212.40,384.50 L213.10,383.22 L213.80,382.10 L214.50,381.67 L215.20,382.05 L215.90,383.07 L216.60,384.52 L217.30,385.80 L218.00,386.31 L218.70,385.97 L219.40,385.07 L220.10,383.89 L220.80,382.75 L221.50,381.87 L222.20,381.31 L222.90,381.06 L223.60,381.31 L224.30,382.22 L225.00,383.57 L225.70,384.98 L226.40,386.06 L227.10,386.45 L227.80,386.10 L228.50,385.06 L229.20,383.62 L229.90,382.24 L230.60,381.08 L231.30,380.06 L232.00,379.69 L232.70,380.59 L233.40,382.56 L234.10,384.62 L234.80,385.68 L235.50,385.89 L236.20,386.51 L236.90,387.34 L237.60,388.04 L238.30,388.36 L239.00,388.32 L239.70,388.28 L240.40,388.09 L241.10,387.75 L241.80,387.52 L242.50,387.50 L243.20,387.59 L243.90,387.70 L244.60,387.61 L245.30,386.99 L246.00,386.07 L246.70,385.36 L247.40,385.20 L248.10,385.62 L248.80,385.94 L249.50,385.68 L250.20,385.10 L250.90,384.51 L251.60,384.18 L252.30,384.05 L253.00,384.00 L253.70,384.17 L254.40,384.52 L255.10,384.70 L255.80,384.68 L256.50,384.69 L257.20,385.33 L257.90,386.41 L258.60,387.27 L259.30,387.63 L260.00,387.84 L260.70,387.88 L261.40,387.68 L262.10,386.86 L262.80,385.74 L263.50,384.99 L264.20,384.98 L264.90,385.48 L265.60,385.85 L266.30,385.40 L267.00,384.48 L267.70,383.63 L268.40,383.32 L269.10,383.44 L269.80,383.70 L270.50,384.11 L271.20,384.60 L271.90,384.92 L272.60,384.99 L273.30,384.85 L274.00,384.83 L274.70,384.98 L275.40,385.08 L276.10,385.06 L276.80,385.14 L277.50,385.22 L278.20,385.22 L278.90,384.73 L279.60,384.00 L280.30,383.55 L281.00,383.32 L281.70,383.06 L282.40,382.57 L283.10,381.72 L283.80,380.69 L284.50,379.92 L285.20,379.76 L285.90,380.24 L286.60,381.11 L287.30,381.79 L288.00,381.88 L288.70,381.93 L289.40,382.50 L290.10,383.59 L290.80,385.01 L291.50,386.25 L292.20,386.75 L292.90,386.94 L293.60,387.31 L294.30,387.74 L295.00,388.05 L295.70,387.95 L296.40,387.54 L297.10,387.26 L297.80,387.33 L298.50,387.66 L299.20,387.96 L299.90,387.95 L300.60,387.51 L301.30,387.00 L302.00,386.87 L302.70,386.95 L303.40,386.93 L304.10,386.94 L304.80,387.13 L305.50,387.59 L306.20,388.03 L306.90,387.96 L307.60,387.22 L308.30,386.18 L309.00,385.38 L309.70,385.12 L310.40,385.12 L311.10,384.57 L311.80,383.57 L312.50,382.68 L313.20,382.27 L313.90,382.43 L314.60,383.16 L315.30,384.37 L316.00,385.53 L316.70,386.12 L317.40,385.90 L318.10,385.59 L318.80,385.58 L319.50,385.75 L320.20,385.89 L320.90,386.04 L321.60,386.33 L322.30,387.06 L323.00,387.79 L323.70,388.05 L324.40,387.83 L325.10,387.41 L325.80,387.19 L326.50,387.41 L327.20,388.03 L327.90,388.64 L328.60,388.85 L329.30,388.86 L330.00,388.82 L330.70,388.80 L331.40,388.67 L332.10,388.26 L332.80,387.92 L333.50,387.90 L334.20,388.00 L334.90,388.13 L335.60,388.22 L336.30,388.29 L337.00,388.39 L337.70,388.47 L338.40,388.53 L339.10,388.64 L339.80,388.75 L340.50,388.79 L341.20,388.78 L341.90,388.76 L342.60,388.77 L343.30,388.81 L344.00,388.83 L344.70,388.85 L345.40,388.90 L346.10,388.99 L346.80,389.09 L347.50,389.17 L348.20,389.30 L348.90,389.59 L349.60,389.84 L350.30,389.85 L351.00,389.56 L351.70,389.18 L352.40,389.01 L353.10,388.98 L353.80,388.92 L354.50,388.87 L355.20,388.90 L355.90,389.11 L356.60,389.36 L357.30,389.44 L358.00,389.20 L358.70,388.77 L359.40,388.49 L360.10,388.49 L360.80,388.54 L361.50,388.59 L362.20,388.63 L362.90,389.02 L363.60,389.62 L364.30,389.95 L365.00,389.82 L365.70,389.44 L366.40,389.10 L367.10,389.04 L367.80,389.06 L368.50,389.09 L369.20,389.10 L369.90,388.89 L370.60,388.42 L371.30,388.04 L372.00,388.03 L372.70,388.29 L373.40,388.58 L374.10,388.65 L374.80,388.68 L375.50,388.77 L376.20,388.81 L376.90,388.65 L377.60,388.17 L378.30,387.69 L379.00,387.57 L379.70,387.91 L380.40,388.43 L381.10,388.70 L381.80,388.66 L382.50,388.60 L383.20,388.53 L383.90,388.39 L384.60,387.90 L385.30,387.30 L386.00,386.97 L386.70,387.09 L387.40,387.49 L388.10,387.80 L388.80,387.77 L389.50,387.62 L390.20,387.47 L390.90,387.30 L391.60,387.13 L392.30,386.93 L393.00,386.60 L393.70,386.09 L394.40,385.45 L395.10,384.91 L395.80,384.72 L396.50,384.86 L397.20,384.90 L397.90,384.61 L398.60,384.04 L399.30,383.43 L400.00,382.85 L400.70,382.31 L401.40,381.53 L402.10,380.83 L402.80,380.76 L403.50,381.28 L404.20,382.01 L404.90,382.80 L405.60,383.57 L406.30,384.49 L407.00,385.17 L407.70,385.43 L408.40,385.77 L409.10,386.29 L409.80,386.71 L410.50,386.74 L411.20,386.20 L411.90,385.40 L412.60,384.78 L413.30,384.29 L414.00,383.88 L414.70,383.56 L415.40,383.45 L416.10,383.76 L416.80,384.41 L417.50,385.18 L418.20,385.82 L418.90,386.28 L419.60,386.58 L420.30,386.68 L421.00,386.92 L421.70,387.30 L422.40,387.70 L423.10,388.00 L423.80,388.13 L424.50,388.13 L425.20,388.20 L425.90,388.32 L426.60,388.43 L427.30,388.57 L428.00,388.84 L428.70,389.09 L429.40,389.17 L430.10,389.01 L430.80,388.75 L431.50,388.60 L432.20,388.62 L432.90,388.69 L433.60,388.74 L434.30,388.78 L435.00,389.05 L435.70,389.39 L436.40,389.54 L437.10,389.25 L437.80,388.61 L438.50,388.11 L439.20,388.13 L439.90,388.53 L440.60,388.98 L441.30,389.12 L442.00,389.18 L442.70,389.29 L443.40,389.34 L444.10,389.21 L444.80,388.81 L445.50,388.41 L446.20,388.25 L446.90,388.13 L447.60,387.98 L448.30,387.86 L449.00,387.96 L449.70,388.38 L450.40,388.74 L451.10,388.72 L451.80,388.30 L452.50,387.77 L453.20,387.51 L453.90,387.47 L454.60,387.41 L455.30,387.37 L456.00,387.29 L456.70,387.25 L457.40,387.13 L458.10,386.81 L458.80,386.50 L459.50,386.27 L460.20,385.97 L460.90,385.44 L461.60,384.63 L462.30,383.90 L463.00,383.64 L463.70,383.75 L464.40,384.18 L465.10,384.73 L465.80,385.23 L466.50,385.58 L467.20,385.69 L467.90,386.12 L468.60,387.14 L469.30,388.21 L470.00,388.67 L470.70,388.52 L471.40,388.22 L472.10,388.01 L472.80,388.11 L473.50,388.51 L474.20,388.96 L474.90,389.19 L475.60,388.96 L476.30,388.46 L477.00,388.16 L477.70,388.25 L478.40,388.44 L479.10,388.62 L479.80,388.68 L480.50,388.87 L481.20,389.14 L481.90,389.30 L482.60,389.37 L483.30,389.57 L484.00,389.74 L484.70,389.74 L485.40,389.45 L486.10,389.07 L486.80,388.90 L487.50,388.81 L488.20,388.62 L488.90,388.47 L489.60,388.44 L490.30,388.36 L491.00,388.27 L491.70,388.25 L492.40,388.45 L493.10,388.81" fill="none" stroke="#f1c66a" stroke-width="0.75" stroke-opacity="1" stroke-linejoin="round"/>
<path d="M100.40,388.86 L100.95,380.07 L101.10,376.85 L101.60,371.00 L101.80,372.04 L102.25,380.10 L102.50,385.28 L102.90,389.23 L103.20,389.24 L103.90,389.24 L104.60,389.25 L105.30,389.27 L106.00,389.28 L106.70,389.28 L107.40,389.31 L108.10,389.35 L108.80,389.39 L109.50,389.40 L110.20,389.36 L110.90,389.29 L111.60,389.21 L112.30,389.17 L113.00,389.18 L113.70,389.23 L114.40,389.28 L115.10,389.32 L115.80,389.27 L116.50,389.04 L117.00,388.80 L117.20,388.68 L117.90,387.95 L118.50,387.19 L118.60,387.07 L119.30,386.32 L120.00,386.00 L120.70,386.35 L121.40,387.24 L121.50,387.39 L122.10,388.24 L122.80,388.93 L123.00,389.01 L123.50,389.12 L124.20,389.20 L124.80,389.19 L124.90,388.89 L125.45,379.30 L125.60,375.82 L126.10,369.50 L126.30,370.62 L126.75,379.20 L127.00,384.70 L127.40,388.86 L127.70,388.87 L128.40,388.91 L129.10,388.99 L129.80,389.06 L130.50,389.07 L131.20,388.93 L131.90,388.65 L132.60,388.38 L133.30,388.24 L134.00,388.26 L134.70,388.36 L135.40,388.48 L136.10,388.55 L136.80,388.54 L137.50,388.48 L138.20,388.39 L138.90,388.32 L139.60,388.30 L140.30,388.35 L141.00,388.45 L141.70,388.54 L142.40,388.57 L143.10,388.57 L143.80,384.96 L143.90,384.09 L144.50,379.94 L144.70,379.60 L145.20,381.60 L145.50,384.09 L145.90,387.23 L146.30,388.47 L146.60,388.39 L147.30,388.18 L148.00,388.04 L148.70,388.02 L149.40,388.06 L150.10,388.14 L150.80,388.20 L151.50,388.22 L152.20,388.23 L152.90,388.25 L153.60,388.28 L154.30,388.29 L155.00,388.35 L155.70,388.55 L156.40,388.78 L157.10,388.93 L157.80,388.94 L158.50,388.91 L159.20,388.86 L159.90,388.82 L160.60,388.81 L161.30,388.70 L162.00,388.50 L162.70,388.31 L163.40,388.24 L164.10,388.33 L164.80,388.55 L165.50,388.78 L166.20,388.91 L166.90,388.88 L167.00,388.86 L167.60,388.50 L168.30,387.70 L168.50,387.46 L169.00,386.96 L169.70,386.54 L170.00,386.50 L170.40,386.58 L171.10,387.13 L171.50,387.61 L171.80,387.99 L172.50,388.67 L173.00,388.79 L173.20,388.76 L173.90,388.60 L174.60,388.45 L175.30,388.38 L176.00,388.38 L176.70,388.35 L177.40,388.32 L178.10,388.30 L178.80,388.35 L179.20,388.46 L179.50,387.82 L180.00,384.20 L180.20,382.47 L180.80,379.60 L180.90,379.69 L181.60,384.41 L182.30,389.00 L182.40,389.07 L183.00,388.88 L183.70,388.67 L184.40,388.60 L185.10,388.61 L185.80,388.62 L186.50,388.63 L187.20,388.64 L187.90,388.70 L188.60,388.92 L189.30,389.20 L190.00,389.40 L190.70,388.93 L191.40,387.66 L191.50,387.46 L192.10,386.30 L192.80,385.54 L193.00,385.50 L193.50,385.76 L194.20,386.80 L194.50,387.34 L194.90,388.01 L195.60,388.73 L196.00,388.81 L196.30,388.78 L197.00,388.85 L197.70,389.05 L198.40,389.29 L199.10,389.44 L199.80,389.44 L200.50,389.34 L201.20,389.18 L201.90,389.07 L202.00,389.06 L202.60,388.56 L203.30,387.06 L203.50,386.54 L204.00,385.28 L204.70,384.13 L205.00,384.00 L205.40,384.22 L206.10,385.51 L206.50,386.51 L206.80,387.24 L207.10,387.86 L207.50,387.46 L207.90,385.10 L208.00,384.40 L208.20,383.09 L208.70,381.50 L208.90,381.77 L209.50,385.19 L209.60,385.93 L210.00,388.43 L210.30,389.03 L211.00,387.89 L211.50,386.44 L211.70,385.82 L212.40,384.05 L213.00,383.50 L213.10,383.52 L213.80,384.43 L214.50,386.30 L215.20,388.20 L215.90,389.20 L216.00,389.23 L216.60,389.30 L217.30,389.33 L218.00,389.32 L218.70,389.28 L219.40,389.25 L220.10,389.22 L220.80,389.18 L221.50,389.02 L222.20,388.80 L222.90,388.62 L223.60,388.57 L224.00,388.57 L224.30,388.47 L225.00,387.56 L225.50,386.55 L225.70,386.12 L226.40,384.89 L227.00,384.50 L227.10,384.51 L227.80,385.16 L228.50,386.45 L229.20,387.72 L229.40,387.98 L229.90,385.61 L230.00,384.59 L230.10,383.52 L230.60,379.18 L230.80,378.70 L231.30,381.42 L231.50,383.50 L232.00,387.82 L232.20,388.29 L232.70,388.28 L233.00,388.27 L233.40,388.11 L234.10,387.26 L234.50,386.60 L234.80,386.10 L235.50,385.21 L236.00,385.00 L236.20,385.03 L236.90,385.67 L237.50,386.66 L237.60,386.84 L238.30,387.93 L239.00,388.39 L239.70,388.47 L240.40,388.57 L241.10,388.63 L241.80,388.61 L242.50,388.45 L243.20,388.23 L243.90,388.06 L244.60,388.03 L245.30,388.15 L246.00,388.38 L246.70,388.60 L247.40,388.68 L248.10,388.64 L248.80,388.53 L249.50,388.41 L250.20,388.34 L250.90,388.34 L251.60,388.33 L252.00,388.33 L252.30,388.27 L253.00,387.74 L253.50,387.16 L253.70,386.93 L254.40,386.23 L255.00,386.00 L255.10,386.01 L255.80,386.46 L256.50,387.43 L257.20,388.35 L257.90,388.70 L258.00,388.69 L258.60,388.61 L259.30,388.56 L260.00,388.56 L260.70,388.26 L261.40,387.59 L261.50,387.49 L262.10,386.90 L262.80,386.52 L263.00,386.50 L263.50,386.64 L264.20,387.23 L264.50,387.57 L264.90,388.03 L265.60,388.61 L266.00,388.73 L266.30,388.77 L267.00,388.86 L267.70,388.95 L268.40,389.00 L269.10,388.94 L269.80,388.75 L270.50,388.55 L271.20,388.45 L271.90,388.52 L272.60,388.80 L273.30,389.15 L274.00,389.40 L274.70,389.44 L275.40,389.25 L276.10,388.93 L276.70,388.70 L276.80,388.23 L277.30,375.80 L277.50,369.40 L277.90,363.00 L278.20,366.77 L278.50,375.92 L278.90,387.27 L279.10,389.09 L279.60,389.27 L280.30,389.41 L281.00,389.44 L281.70,389.49 L282.10,389.52 L282.40,384.40 L282.70,371.98 L283.00,359.55 L283.10,356.76 L283.30,354.40 L283.80,367.43 L283.90,371.98 L284.50,386.69 L285.20,384.84 L285.90,384.01 L286.00,384.00 L286.60,384.46 L287.20,385.72 L287.30,385.95 L287.50,386.11 L288.00,384.00 L288.70,378.80 L288.80,378.70 L289.00,379.12 L289.40,382.09 L289.60,384.19 L290.10,387.47 L290.40,387.31 L290.50,387.04 L290.80,386.23 L291.50,384.83 L292.00,384.50 L292.20,384.55 L292.90,385.50 L293.50,386.94 L293.60,387.21 L294.30,388.84 L295.00,389.54 L295.70,389.55 L296.40,389.42 L297.00,389.26 L297.10,389.22 L297.80,388.55 L298.50,387.50 L299.20,386.50 L299.90,386.01 L300.00,386.00 L300.60,386.29 L301.30,387.21 L301.50,387.52 L302.00,388.29 L302.70,389.02 L303.00,389.12 L303.40,389.15 L304.10,389.18 L304.80,389.21 L305.50,389.41 L306.20,389.69 L306.90,389.90 L307.60,389.95 L308.30,389.80 L309.00,389.54 L309.70,389.29 L310.40,389.20 L311.10,389.27 L311.80,389.45 L312.50,389.64 L313.20,389.75 L313.90,389.77 L314.60,389.82 L315.30,389.88 L316.00,389.92 L316.70,389.93 L317.40,389.93 L318.10,389.94 L318.80,389.94 L319.50,389.94 L320.20,389.84 L320.90,389.64 L321.60,389.44 L322.30,389.35 L323.00,389.35 L323.70,389.35 L324.40,389.35 L325.10,389.35 L325.80,389.36 L326.50,389.41 L327.20,389.47 L327.90,389.51 L328.60,389.53 L329.30,389.58 L330.00,389.66 L330.70,389.74 L331.40,389.78 L332.10,389.69 L332.80,389.48 L333.50,389.25 L334.20,389.12 L334.90,389.15 L335.60,389.33 L336.30,389.56 L337.00,389.72 L337.70,389.75 L338.40,389.76 L339.10,389.78 L339.80,389.79 L340.50,389.80 L341.20,389.81 L341.90,389.83 L342.60,389.85 L343.30,389.86 L344.00,389.78 L344.70,389.53 L345.40,389.24 L346.10,389.06 L346.80,389.08 L347.50,389.31 L348.20,389.63 L348.90,389.88 L349.60,389.94 L350.30,389.77 L351.00,389.47 L351.70,389.20 L352.40,389.09 L353.10,389.12 L353.80,389.20 L354.50,389.29 L355.20,389.34 L355.90,389.36 L356.60,389.43 L357.30,389.53 L358.00,389.60 L358.70,389.62 L359.40,389.69 L360.10,389.80 L360.80,389.89 L361.50,389.92 L362.20,389.82 L362.90,389.63 L363.60,389.44 L364.30,389.34 L365.00,389.40 L365.70,389.57 L366.40,389.78 L367.10,389.91 L367.80,389.91 L368.50,389.81 L369.20,389.68 L369.90,389.57 L370.60,389.54 L371.30,389.50 L372.00,389.42 L372.70,389.34 L373.40,389.31 L374.10,389.31 L374.80,389.31 L375.50,389.32 L376.20,389.32 L376.90,389.31 L377.60,389.27 L378.30,389.22 L379.00,389.18 L379.70,389.18 L380.40,389.15 L381.10,389.12 L381.80,389.09 L382.50,389.08 L383.20,389.09 L383.90,389.11 L384.60,389.14 L385.10,389.15 L385.30,388.32 L385.80,380.84 L386.00,377.23 L386.50,372.50 L386.70,373.33 L387.20,381.00 L387.40,384.73 L387.90,389.65 L388.10,389.68 L388.80,389.70 L389.50,389.78 L390.20,389.89 L390.90,389.98 L391.60,389.99 L392.00,389.92 L392.30,389.73 L393.00,388.65 L393.50,387.67 L393.70,387.29 L394.40,386.30 L395.00,386.00 L395.10,386.01 L395.80,386.51 L396.50,387.54 L397.20,388.55 L397.90,389.10 L398.00,389.14 L398.60,389.37 L399.30,389.71 L400.00,389.95 L400.70,389.98 L401.40,389.87 L402.10,389.71 L402.80,389.58 L403.50,389.53 L404.20,389.51 L404.90,389.47 L405.60,389.43 L406.30,389.41 L406.70,389.41 L407.00,387.08 L407.35,380.19 L407.70,373.31 L408.00,371.00 L408.40,374.95 L408.65,380.14 L409.10,388.21 L409.30,389.25 L409.50,389.25 L409.80,389.05 L410.50,387.16 L410.75,386.20 L411.20,384.51 L411.90,383.03 L412.00,383.00 L412.60,383.90 L413.25,386.33 L413.30,386.54 L414.00,389.10 L414.50,389.81 L414.70,389.83 L415.40,389.86 L416.10,389.81 L416.80,389.70 L417.50,389.57 L418.20,389.51 L418.90,389.50 L419.60,389.50 L420.30,389.49 L421.00,389.48 L421.70,389.48 L422.40,389.40 L423.10,389.27 L423.80,389.17 L424.50,389.14 L425.20,389.28 L425.90,389.57 L426.60,389.87 L427.30,390.01 L428.00,389.93 L428.70,389.67 L429.40,389.37 L430.10,389.17 L430.80,389.17 L431.50,389.30 L432.20,389.47 L432.90,389.60 L433.60,389.64 L434.30,389.71 L435.00,389.84 L435.70,389.95 L436.40,390.00 L437.10,389.92 L437.80,389.70 L438.50,389.46 L439.20,389.33 L439.90,389.36 L440.60,389.54 L441.30,389.76 L442.00,389.92 L442.70,389.95 L443.40,390.01 L444.10,390.09 L444.80,390.16 L445.50,390.19 L446.20,390.14 L446.90,390.04 L447.60,389.94 L448.30,389.89 L449.00,389.91 L449.70,389.97 L450.40,390.03 L451.10,390.07 L451.80,390.05 L452.50,389.88 L453.20,389.65 L453.90,389.46 L454.60,389.43 L455.30,389.50 L456.00,389.61 L456.70,389.72 L457.40,389.77 L458.10,389.74 L458.80,389.66 L459.50,389.56 L460.20,389.51 L460.90,389.56 L461.60,389.76 L462.30,390.01 L463.00,390.19 L463.70,390.22 L464.40,390.10 L465.10,389.91 L465.80,389.75 L466.50,389.70 L467.20,389.73 L467.90,389.79 L468.60,389.84 L469.30,389.87 L470.00,389.93 L470.70,390.10 L471.40,390.30 L472.10,390.42 L472.80,390.43 L473.50,390.40 L474.20,390.35 L474.90,390.31 L475.60,390.31 L476.30,390.34 L477.00,390.38 L477.70,390.43 L478.40,390.44 L479.10,390.38 L479.80,390.22 L480.50,390.04 L481.20,389.94 L481.90,389.94 L482.60,389.95 L483.30,389.96 L484.00,389.97 L484.70,389.98 L485.40,390.04 L486.10,390.13 L486.80,390.20 L487.50,390.22 L488.20,390.18 L488.90,390.10 L489.60,390.02 L490.30,389.98 L491.00,389.96 L491.70,389.90 L492.40,389.84 L493.10,389.80 L493.10,393.4 L100.40,393.4 Z" fill="#cfeadf" fill-opacity="0.55" stroke="none"/>
<path d="M100.40,388.86 L100.95,380.07 L101.10,376.85 L101.60,371.00 L101.80,372.04 L102.25,380.10 L102.50,385.28 L102.90,389.23 L103.20,389.24 L103.90,389.24 L104.60,389.25 L105.30,389.27 L106.00,389.28 L106.70,389.28 L107.40,389.31 L108.10,389.35 L108.80,389.39 L109.50,389.40 L110.20,389.36 L110.90,389.29 L111.60,389.21 L112.30,389.17 L113.00,389.18 L113.70,389.23 L114.40,389.28 L115.10,389.32 L115.80,389.27 L116.50,389.04 L117.00,388.80 L117.20,388.68 L117.90,387.95 L118.50,387.19 L118.60,387.07 L119.30,386.32 L120.00,386.00 L120.70,386.35 L121.40,387.24 L121.50,387.39 L122.10,388.24 L122.80,388.93 L123.00,389.01 L123.50,389.12 L124.20,389.20 L124.80,389.19 L124.90,388.89 L125.45,379.30 L125.60,375.82 L126.10,369.50 L126.30,370.62 L126.75,379.20 L127.00,384.70 L127.40,388.86 L127.70,388.87 L128.40,388.91 L129.10,388.99 L129.80,389.06 L130.50,389.07 L131.20,388.93 L131.90,388.65 L132.60,388.38 L133.30,388.24 L134.00,388.26 L134.70,388.36 L135.40,388.48 L136.10,388.55 L136.80,388.54 L137.50,388.48 L138.20,388.39 L138.90,388.32 L139.60,388.30 L140.30,388.35 L141.00,388.45 L141.70,388.54 L142.40,388.57 L143.10,388.57 L143.80,384.96 L143.90,384.09 L144.50,379.94 L144.70,379.60 L145.20,381.60 L145.50,384.09 L145.90,387.23 L146.30,388.47 L146.60,388.39 L147.30,388.18 L148.00,388.04 L148.70,388.02 L149.40,388.06 L150.10,388.14 L150.80,388.20 L151.50,388.22 L152.20,388.23 L152.90,388.25 L153.60,388.28 L154.30,388.29 L155.00,388.35 L155.70,388.55 L156.40,388.78 L157.10,388.93 L157.80,388.94 L158.50,388.91 L159.20,388.86 L159.90,388.82 L160.60,388.81 L161.30,388.70 L162.00,388.50 L162.70,388.31 L163.40,388.24 L164.10,388.33 L164.80,388.55 L165.50,388.78 L166.20,388.91 L166.90,388.88 L167.00,388.86 L167.60,388.50 L168.30,387.70 L168.50,387.46 L169.00,386.96 L169.70,386.54 L170.00,386.50 L170.40,386.58 L171.10,387.13 L171.50,387.61 L171.80,387.99 L172.50,388.67 L173.00,388.79 L173.20,388.76 L173.90,388.60 L174.60,388.45 L175.30,388.38 L176.00,388.38 L176.70,388.35 L177.40,388.32 L178.10,388.30 L178.80,388.35 L179.20,388.46 L179.50,387.82 L180.00,384.20 L180.20,382.47 L180.80,379.60 L180.90,379.69 L181.60,384.41 L182.30,389.00 L182.40,389.07 L183.00,388.88 L183.70,388.67 L184.40,388.60 L185.10,388.61 L185.80,388.62 L186.50,388.63 L187.20,388.64 L187.90,388.70 L188.60,388.92 L189.30,389.20 L190.00,389.40 L190.70,388.93 L191.40,387.66 L191.50,387.46 L192.10,386.30 L192.80,385.54 L193.00,385.50 L193.50,385.76 L194.20,386.80 L194.50,387.34 L194.90,388.01 L195.60,388.73 L196.00,388.81 L196.30,388.78 L197.00,388.85 L197.70,389.05 L198.40,389.29 L199.10,389.44 L199.80,389.44 L200.50,389.34 L201.20,389.18 L201.90,389.07 L202.00,389.06 L202.60,388.56 L203.30,387.06 L203.50,386.54 L204.00,385.28 L204.70,384.13 L205.00,384.00 L205.40,384.22 L206.10,385.51 L206.50,386.51 L206.80,387.24 L207.10,387.86 L207.50,387.46 L207.90,385.10 L208.00,384.40 L208.20,383.09 L208.70,381.50 L208.90,381.77 L209.50,385.19 L209.60,385.93 L210.00,388.43 L210.30,389.03 L211.00,387.89 L211.50,386.44 L211.70,385.82 L212.40,384.05 L213.00,383.50 L213.10,383.52 L213.80,384.43 L214.50,386.30 L215.20,388.20 L215.90,389.20 L216.00,389.23 L216.60,389.30 L217.30,389.33 L218.00,389.32 L218.70,389.28 L219.40,389.25 L220.10,389.22 L220.80,389.18 L221.50,389.02 L222.20,388.80 L222.90,388.62 L223.60,388.57 L224.00,388.57 L224.30,388.47 L225.00,387.56 L225.50,386.55 L225.70,386.12 L226.40,384.89 L227.00,384.50 L227.10,384.51 L227.80,385.16 L228.50,386.45 L229.20,387.72 L229.40,387.98 L229.90,385.61 L230.00,384.59 L230.10,383.52 L230.60,379.18 L230.80,378.70 L231.30,381.42 L231.50,383.50 L232.00,387.82 L232.20,388.29 L232.70,388.28 L233.00,388.27 L233.40,388.11 L234.10,387.26 L234.50,386.60 L234.80,386.10 L235.50,385.21 L236.00,385.00 L236.20,385.03 L236.90,385.67 L237.50,386.66 L237.60,386.84 L238.30,387.93 L239.00,388.39 L239.70,388.47 L240.40,388.57 L241.10,388.63 L241.80,388.61 L242.50,388.45 L243.20,388.23 L243.90,388.06 L244.60,388.03 L245.30,388.15 L246.00,388.38 L246.70,388.60 L247.40,388.68 L248.10,388.64 L248.80,388.53 L249.50,388.41 L250.20,388.34 L250.90,388.34 L251.60,388.33 L252.00,388.33 L252.30,388.27 L253.00,387.74 L253.50,387.16 L253.70,386.93 L254.40,386.23 L255.00,386.00 L255.10,386.01 L255.80,386.46 L256.50,387.43 L257.20,388.35 L257.90,388.70 L258.00,388.69 L258.60,388.61 L259.30,388.56 L260.00,388.56 L260.70,388.26 L261.40,387.59 L261.50,387.49 L262.10,386.90 L262.80,386.52 L263.00,386.50 L263.50,386.64 L264.20,387.23 L264.50,387.57 L264.90,388.03 L265.60,388.61 L266.00,388.73 L266.30,388.77 L267.00,388.86 L267.70,388.95 L268.40,389.00 L269.10,388.94 L269.80,388.75 L270.50,388.55 L271.20,388.45 L271.90,388.52 L272.60,388.80 L273.30,389.15 L274.00,389.40 L274.70,389.44 L275.40,389.25 L276.10,388.93 L276.70,388.70 L276.80,388.23 L277.30,375.80 L277.50,369.40 L277.90,363.00 L278.20,366.77 L278.50,375.92 L278.90,387.27 L279.10,389.09 L279.60,389.27 L280.30,389.41 L281.00,389.44 L281.70,389.49 L282.10,389.52 L282.40,384.40 L282.70,371.98 L283.00,359.55 L283.10,356.76 L283.30,354.40 L283.80,367.43 L283.90,371.98 L284.50,386.69 L285.20,384.84 L285.90,384.01 L286.00,384.00 L286.60,384.46 L287.20,385.72 L287.30,385.95 L287.50,386.11 L288.00,384.00 L288.70,378.80 L288.80,378.70 L289.00,379.12 L289.40,382.09 L289.60,384.19 L290.10,387.47 L290.40,387.31 L290.50,387.04 L290.80,386.23 L291.50,384.83 L292.00,384.50 L292.20,384.55 L292.90,385.50 L293.50,386.94 L293.60,387.21 L294.30,388.84 L295.00,389.54 L295.70,389.55 L296.40,389.42 L297.00,389.26 L297.10,389.22 L297.80,388.55 L298.50,387.50 L299.20,386.50 L299.90,386.01 L300.00,386.00 L300.60,386.29 L301.30,387.21 L301.50,387.52 L302.00,388.29 L302.70,389.02 L303.00,389.12 L303.40,389.15 L304.10,389.18 L304.80,389.21 L305.50,389.41 L306.20,389.69 L306.90,389.90 L307.60,389.95 L308.30,389.80 L309.00,389.54 L309.70,389.29 L310.40,389.20 L311.10,389.27 L311.80,389.45 L312.50,389.64 L313.20,389.75 L313.90,389.77 L314.60,389.82 L315.30,389.88 L316.00,389.92 L316.70,389.93 L317.40,389.93 L318.10,389.94 L318.80,389.94 L319.50,389.94 L320.20,389.84 L320.90,389.64 L321.60,389.44 L322.30,389.35 L323.00,389.35 L323.70,389.35 L324.40,389.35 L325.10,389.35 L325.80,389.36 L326.50,389.41 L327.20,389.47 L327.90,389.51 L328.60,389.53 L329.30,389.58 L330.00,389.66 L330.70,389.74 L331.40,389.78 L332.10,389.69 L332.80,389.48 L333.50,389.25 L334.20,389.12 L334.90,389.15 L335.60,389.33 L336.30,389.56 L337.00,389.72 L337.70,389.75 L338.40,389.76 L339.10,389.78 L339.80,389.79 L340.50,389.80 L341.20,389.81 L341.90,389.83 L342.60,389.85 L343.30,389.86 L344.00,389.78 L344.70,389.53 L345.40,389.24 L346.10,389.06 L346.80,389.08 L347.50,389.31 L348.20,389.63 L348.90,389.88 L349.60,389.94 L350.30,389.77 L351.00,389.47 L351.70,389.20 L352.40,389.09 L353.10,389.12 L353.80,389.20 L354.50,389.29 L355.20,389.34 L355.90,389.36 L356.60,389.43 L357.30,389.53 L358.00,389.60 L358.70,389.62 L359.40,389.69 L360.10,389.80 L360.80,389.89 L361.50,389.92 L362.20,389.82 L362.90,389.63 L363.60,389.44 L364.30,389.34 L365.00,389.40 L365.70,389.57 L366.40,389.78 L367.10,389.91 L367.80,389.91 L368.50,389.81 L369.20,389.68 L369.90,389.57 L370.60,389.54 L371.30,389.50 L372.00,389.42 L372.70,389.34 L373.40,389.31 L374.10,389.31 L374.80,389.31 L375.50,389.32 L376.20,389.32 L376.90,389.31 L377.60,389.27 L378.30,389.22 L379.00,389.18 L379.70,389.18 L380.40,389.15 L381.10,389.12 L381.80,389.09 L382.50,389.08 L383.20,389.09 L383.90,389.11 L384.60,389.14 L385.10,389.15 L385.30,388.32 L385.80,380.84 L386.00,377.23 L386.50,372.50 L386.70,373.33 L387.20,381.00 L387.40,384.73 L387.90,389.65 L388.10,389.68 L388.80,389.70 L389.50,389.78 L390.20,389.89 L390.90,389.98 L391.60,389.99 L392.00,389.92 L392.30,389.73 L393.00,388.65 L393.50,387.67 L393.70,387.29 L394.40,386.30 L395.00,386.00 L395.10,386.01 L395.80,386.51 L396.50,387.54 L397.20,388.55 L397.90,389.10 L398.00,389.14 L398.60,389.37 L399.30,389.71 L400.00,389.95 L400.70,389.98 L401.40,389.87 L402.10,389.71 L402.80,389.58 L403.50,389.53 L404.20,389.51 L404.90,389.47 L405.60,389.43 L406.30,389.41 L406.70,389.41 L407.00,387.08 L407.35,380.19 L407.70,373.31 L408.00,371.00 L408.40,374.95 L408.65,380.14 L409.10,388.21 L409.30,389.25 L409.50,389.25 L409.80,389.05 L410.50,387.16 L410.75,386.20 L411.20,384.51 L411.90,383.03 L412.00,383.00 L412.60,383.90 L413.25,386.33 L413.30,386.54 L414.00,389.10 L414.50,389.81 L414.70,389.83 L415.40,389.86 L416.10,389.81 L416.80,389.70 L417.50,389.57 L418.20,389.51 L418.90,389.50 L419.60,389.50 L420.30,389.49 L421.00,389.48 L421.70,389.48 L422.40,389.40 L423.10,389.27 L423.80,389.17 L424.50,389.14 L425.20,389.28 L425.90,389.57 L426.60,389.87 L427.30,390.01 L428.00,389.93 L428.70,389.67 L429.40,389.37 L430.10,389.17 L430.80,389.17 L431.50,389.30 L432.20,389.47 L432.90,389.60 L433.60,389.64 L434.30,389.71 L435.00,389.84 L435.70,389.95 L436.40,390.00 L437.10,389.92 L437.80,389.70 L438.50,389.46 L439.20,389.33 L439.90,389.36 L440.60,389.54 L441.30,389.76 L442.00,389.92 L442.70,389.95 L443.40,390.01 L444.10,390.09 L444.80,390.16 L445.50,390.19 L446.20,390.14 L446.90,390.04 L447.60,389.94 L448.30,389.89 L449.00,389.91 L449.70,389.97 L450.40,390.03 L451.10,390.07 L451.80,390.05 L452.50,389.88 L453.20,389.65 L453.90,389.46 L454.60,389.43 L455.30,389.50 L456.00,389.61 L456.70,389.72 L457.40,389.77 L458.10,389.74 L458.80,389.66 L459.50,389.56 L460.20,389.51 L460.90,389.56 L461.60,389.76 L462.30,390.01 L463.00,390.19 L463.70,390.22 L464.40,390.10 L465.10,389.91 L465.80,389.75 L466.50,389.70 L467.20,389.73 L467.90,389.79 L468.60,389.84 L469.30,389.87 L470.00,389.93 L470.70,390.10 L471.40,390.30 L472.10,390.42 L472.80,390.43 L473.50,390.40 L474.20,390.35 L474.90,390.31 L475.60,390.31 L476.30,390.34 L477.00,390.38 L477.70,390.43 L478.40,390.44 L479.10,390.38 L479.80,390.22 L480.50,390.04 L481.20,389.94 L481.90,389.94 L482.60,389.95 L483.30,389.96 L484.00,389.97 L484.70,389.98 L485.40,390.04 L486.10,390.13 L486.80,390.20 L487.50,390.22 L488.20,390.18 L488.90,390.10 L489.60,390.02 L490.30,389.98 L491.00,389.96 L491.70,389.90 L492.40,389.84 L493.10,389.80" fill="none" stroke="#8ecbb8" stroke-width="0.7" stroke-opacity="1" stroke-linejoin="round"/>
<path d="M100.40,390.33 L101.10,390.32 L101.80,390.29 L102.50,390.25 L103.20,390.21 L103.90,390.18 L104.60,390.17 L105.30,390.12 L106.00,390.03 L106.70,389.91 L107.40,389.81 L108.10,389.76 L108.80,389.78 L109.50,389.98 L110.20,390.30 L110.90,390.66 L111.60,390.93 L112.30,391.06 L113.00,390.98 L113.70,390.69 L114.40,390.29 L115.10,389.88 L115.80,389.60 L116.50,389.51 L117.20,389.60 L117.90,389.79 L118.60,390.03 L119.30,390.25 L120.00,390.38 L120.70,390.41 L121.40,390.51 L122.10,390.68 L122.80,390.87 L123.50,391.03 L124.20,391.11 L124.90,391.06 L125.60,390.81 L126.30,390.44 L127.00,390.05 L127.70,389.75 L128.40,389.65 L129.10,389.71 L129.50,389.79 L129.80,389.38 L130.50,384.74 L131.20,376.21 L131.50,371.95 L131.90,366.27 L132.60,357.93 L133.30,353.73 L133.50,353.50 L134.00,354.91 L134.70,361.14 L135.40,370.59 L135.50,372.05 L136.10,380.48 L136.80,387.85 L137.50,390.43 L138.20,390.17 L138.90,389.89 L139.60,389.67 L140.30,389.58 L141.00,389.61 L141.70,389.72 L142.40,389.88 L143.10,390.04 L143.80,390.15 L144.50,390.18 L145.20,390.24 L145.90,390.36 L146.60,390.52 L147.30,390.66 L148.00,390.75 L148.70,390.76 L149.40,390.70 L150.10,390.59 L150.80,390.47 L151.50,390.37 L152.20,390.32 L152.90,390.33 L153.60,390.41 L154.30,390.54 L155.00,390.67 L155.70,390.77 L156.40,390.81 L157.10,390.73 L157.80,390.53 L158.50,390.25 L159.20,389.99 L159.90,389.82 L160.60,389.78 L161.30,389.80 L162.00,389.83 L162.70,389.87 L163.40,389.91 L164.10,389.93 L164.80,389.92 L165.50,389.89 L166.20,389.83 L166.90,389.77 L167.60,389.72 L168.30,389.70 L169.00,389.74 L169.70,389.87 L170.40,390.06 L171.10,390.24 L171.80,390.37 L172.50,390.41 L173.20,390.48 L173.90,390.64 L174.60,390.85 L175.30,391.03 L176.00,391.14 L176.70,391.15 L177.40,391.08 L178.10,390.93 L178.80,390.77 L179.50,390.63 L180.20,390.57 L180.90,390.58 L181.60,390.63 L182.10,390.69 L182.30,390.48 L183.00,386.28 L183.70,378.36 L183.75,377.74 L184.40,370.12 L185.10,365.13 L185.40,364.60 L185.80,365.53 L186.50,371.08 L187.05,377.49 L187.20,379.30 L187.90,386.68 L188.60,390.14 L188.70,390.20 L189.30,390.27 L190.00,390.42 L190.70,390.59 L191.40,390.75 L192.10,390.83 L192.80,390.81 L193.50,390.64 L194.20,390.35 L194.90,390.04 L195.60,389.79 L196.30,389.68 L197.00,389.70 L197.70,389.76 L198.40,389.85 L199.10,389.94 L199.80,390.01 L200.50,390.03 L201.20,390.09 L201.90,390.24 L202.60,390.42 L203.30,390.59 L204.00,390.70 L204.70,390.71 L205.40,390.73 L206.10,390.75 L206.80,390.77 L207.50,390.80 L208.20,390.81 L208.90,390.79 L209.60,390.69 L210.30,390.55 L211.00,390.41 L211.70,390.30 L212.40,390.26 L213.10,390.21 L213.80,390.10 L214.50,389.93 L215.20,389.78 L215.90,389.68 L216.60,389.66 L217.30,389.70 L218.00,389.77 L218.70,389.86 L219.40,389.93 L220.10,389.98 L220.80,389.98 L221.50,389.96 L222.20,389.94 L222.90,389.91 L223.60,389.89 L224.30,389.88 L225.00,389.88 L225.70,389.91 L226.40,389.94 L227.10,389.98 L227.80,390.00 L228.50,390.01 L229.20,390.10 L229.90,390.30 L230.60,390.56 L231.30,390.79 L232.00,390.93 L232.70,390.94 L233.40,390.80 L234.10,390.54 L234.80,390.24 L235.50,389.99 L236.20,389.87 L236.90,389.91 L237.60,390.11 L238.30,390.43 L239.00,390.76 L239.70,387.60 L240.40,378.91 L240.65,375.15 L241.10,368.52 L241.80,360.97 L242.30,359.20 L242.50,359.49 L243.20,364.70 L243.90,374.38 L243.95,375.14 L244.60,384.38 L245.30,390.26 L245.60,390.78 L246.00,390.57 L246.70,390.17 L247.40,389.82 L248.10,389.62 L248.80,389.61 L249.50,389.70 L250.20,389.84 L250.90,390.00 L251.60,390.13 L252.30,390.18 L253.00,390.19 L253.70,390.23 L254.40,390.28 L255.10,390.34 L255.80,390.37 L256.50,390.38 L257.20,390.30 L257.50,390.24 L257.90,388.94 L258.60,381.67 L259.15,373.36 L259.30,371.02 L260.00,361.50 L260.70,357.07 L260.80,357.00 L261.40,359.59 L262.10,368.04 L262.45,373.46 L262.80,378.91 L263.50,387.54 L264.10,390.25 L264.20,390.26 L264.90,390.30 L265.00,390.31 L265.60,390.38 L266.30,390.37 L267.00,390.17 L267.70,389.77 L268.00,389.56 L268.40,389.24 L269.10,388.69 L269.80,388.26 L270.50,388.04 L271.00,388.00 L271.20,388.01 L271.90,388.10 L272.60,388.28 L273.30,388.58 L274.00,389.00 L274.70,389.52 L275.40,390.04 L276.10,390.42 L276.80,390.55 L277.00,390.53 L277.50,390.42 L278.20,390.21 L278.90,389.98 L279.60,389.80 L280.30,389.72 L281.00,389.76 L281.60,389.89 L281.70,389.91 L282.40,389.66 L283.10,388.82 L283.80,387.83 L284.50,387.31 L284.60,387.30 L285.20,387.61 L285.90,388.65 L286.10,389.03 L286.60,389.98 L287.30,390.92 L287.60,391.06 L288.00,391.10 L288.70,391.09 L289.40,390.93 L290.10,390.63 L290.80,390.30 L291.50,390.01 L292.20,389.87 L292.90,389.85 L293.60,389.79 L294.30,389.70 L295.00,389.61 L295.20,389.59 L295.70,382.53 L296.35,358.26 L296.40,356.12 L297.10,331.55 L297.50,327.00 L297.80,329.59 L297.90,331.55 L298.50,351.93 L298.65,358.30 L299.15,374.03 L299.20,374.54 L299.80,372.66 L299.90,371.88 L300.40,370.00 L300.60,370.31 L301.30,375.67 L301.65,379.92 L302.00,384.21 L302.20,386.37 L302.70,388.98 L302.90,388.52 L303.20,387.15 L303.40,386.19 L304.00,384.16 L304.10,384.04 L304.20,384.00 L304.80,385.33 L305.20,386.63 L305.25,386.72 L305.50,386.89 L306.20,386.14 L306.50,386.00 L306.90,386.24 L307.60,387.47 L307.75,387.80 L308.10,388.53 L308.30,388.61 L309.00,383.15 L309.35,378.42 L309.70,373.69 L310.40,367.65 L310.60,367.30 L311.10,369.43 L311.80,377.77 L311.85,378.47 L312.50,386.62 L313.10,389.71 L313.20,389.57 L313.90,381.19 L314.25,373.84 L314.60,366.44 L315.30,357.85 L315.40,357.70 L316.00,362.89 L316.55,374.05 L316.70,377.38 L317.40,389.15 L317.70,390.58 L318.10,390.69 L318.80,390.89 L318.90,390.92 L319.50,387.29 L320.05,379.22 L320.20,376.80 L320.90,368.29 L321.20,367.30 L321.50,368.28 L321.60,369.02 L322.00,373.66 L322.30,378.17 L322.35,378.75 L322.75,381.50 L323.00,381.42 L323.50,379.18 L323.70,378.43 L324.00,378.00 L324.40,378.58 L324.75,379.47 L325.10,380.01 L325.25,380.06 L325.80,379.77 L326.00,379.81 L326.50,380.98 L327.20,384.60 L327.25,384.84 L327.90,387.39 L328.10,387.81 L328.50,386.45 L328.60,385.57 L329.30,371.87 L329.35,370.64 L330.00,356.33 L330.60,351.00 L330.70,351.16 L331.00,353.44 L331.40,360.04 L331.85,366.13 L332.00,366.57 L332.10,366.34 L332.80,359.35 L333.00,358.60 L333.10,358.80 L333.50,363.27 L334.00,374.46 L334.20,379.31 L334.90,384.52 L335.00,384.50 L335.60,384.31 L336.30,384.01 L336.75,377.54 L337.00,373.49 L337.70,365.85 L337.90,365.40 L338.00,365.51 L338.40,368.17 L339.05,377.86 L339.10,378.72 L339.80,384.14 L340.00,384.23 L340.20,384.28 L340.50,384.21 L341.15,377.44 L341.20,376.55 L341.90,366.29 L342.00,365.47 L342.30,364.40 L342.60,365.46 L343.30,374.57 L343.45,377.15 L344.00,384.21 L344.20,384.80 L344.60,384.34 L344.70,383.78 L345.35,368.06 L345.40,366.57 L345.50,363.62 L346.00,351.12 L346.10,349.40 L346.50,346.20 L346.75,347.47 L346.80,348.03 L347.00,351.15 L347.50,363.84 L347.65,368.36 L348.00,378.00 L348.20,378.09 L348.70,380.25 L348.80,380.87 L348.90,381.07 L349.25,380.56 L349.60,372.06 L349.85,362.69 L350.30,346.51 L350.50,340.92 L351.00,334.60 L351.70,346.58 L352.00,357.15 L352.15,362.91 L352.40,372.39 L353.10,381.14 L353.30,381.17 L353.50,381.13 L353.80,381.01 L354.00,379.67 L354.50,376.96 L355.00,376.00 L355.10,376.04 L355.20,376.15 L355.90,369.63 L356.10,360.66 L356.50,343.63 L356.60,340.18 L357.00,332.06 L357.10,331.70 L357.30,333.12 L357.60,340.21 L358.00,353.27 L358.10,355.46 L358.50,354.43 L358.70,348.49 L359.10,334.78 L359.40,330.80 L360.10,350.44 L360.30,359.63 L360.80,364.92 L361.00,357.85 L361.20,347.89 L361.50,334.43 L361.90,327.00 L362.00,327.38 L362.20,330.08 L362.70,335.28 L362.80,333.99 L362.90,331.81 L363.50,317.30 L363.60,318.00 L363.70,320.09 L364.30,353.95 L365.00,389.84 L365.10,390.53 L365.70,390.40 L366.40,390.18 L367.10,389.97 L367.80,389.81 L368.50,389.77 L368.70,389.77 L369.20,386.94 L369.85,377.12 L369.90,376.25 L370.60,366.26 L371.00,364.40 L371.30,365.46 L372.00,374.59 L372.15,377.19 L372.50,383.08 L372.70,385.74 L373.30,385.95 L373.40,385.04 L373.50,384.11 L374.10,379.19 L374.50,378.00 L374.80,378.70 L375.50,384.57 L376.20,390.56 L376.50,391.29 L376.90,391.29 L377.60,391.29 L378.30,391.29 L379.00,391.29 L379.70,391.30 L380.40,391.30 L381.10,391.18 L381.80,390.87 L382.50,390.45 L383.20,390.04 L383.90,389.78 L384.60,389.72 L385.30,389.84 L386.00,390.08 L386.70,390.37 L387.40,390.62 L388.10,390.76 L388.80,390.78 L389.50,390.85 L390.20,390.96 L390.90,391.08 L391.60,391.17 L392.30,391.21 L393.00,391.14 L393.70,390.90 L394.40,390.57 L395.10,390.23 L395.80,390.00 L396.50,389.93 L397.20,389.99 L397.90,390.13 L398.60,390.32 L399.30,390.48 L400.00,390.58 L400.70,390.59 L401.40,390.45 L402.10,390.21 L402.80,389.93 L403.50,389.70 L404.20,389.58 L404.90,389.60 L405.60,389.70 L406.30,389.85 L407.00,390.00 L407.70,390.12 L408.40,390.16 L409.10,390.20 L409.80,390.31 L410.50,390.46 L411.20,390.60 L411.90,390.69 L412.60,390.71 L413.00,390.71 L413.30,390.32 L414.00,386.98 L414.25,385.32 L414.70,382.46 L415.40,380.04 L415.50,380.00 L416.10,381.43 L416.75,385.28 L416.80,385.62 L417.50,389.61 L418.00,390.68 L418.20,390.70 L418.90,390.79 L419.60,390.86 L420.30,390.89 L421.00,390.83 L421.70,390.60 L422.40,390.28 L423.10,389.95 L423.80,389.72 L424.50,389.66 L425.00,389.68 L425.20,389.41 L425.90,384.40 L426.25,380.43 L426.60,376.43 L427.30,371.30 L427.50,371.00 L428.00,372.83 L428.70,379.97 L428.75,380.57 L429.40,387.65 L430.00,390.45 L430.10,390.48 L430.80,390.73 L431.50,390.94 L432.20,391.05 L432.90,385.63 L433.35,378.24 L433.60,373.96 L434.30,365.97 L434.50,365.50 L435.00,368.32 L435.65,378.05 L435.70,378.90 L436.40,388.73 L436.80,390.55 L437.00,390.54 L437.10,390.53 L437.80,390.17 L438.50,389.32 L439.20,388.07 L439.90,386.49 L440.00,386.24 L440.60,384.26 L440.80,383.42 L441.30,378.57 L441.50,375.95 L441.90,366.64 L442.00,363.28 L442.50,348.77 L442.70,345.14 L443.00,343.00 L443.40,346.75 L444.10,366.61 L444.80,372.06 L445.00,372.00 L445.20,372.07 L445.50,372.45 L445.80,373.14 L446.00,373.66 L446.20,373.87 L446.90,361.08 L447.50,338.52 L447.60,335.96 L448.00,331.20 L448.30,333.91 L449.00,356.95 L449.10,361.21 L449.70,370.35 L449.80,370.29 L450.00,369.95 L450.20,369.40 L450.40,368.73 L450.50,368.43 L450.90,361.63 L451.10,353.41 L451.80,333.68 L452.00,332.50 L452.50,339.59 L453.10,361.48 L453.20,365.59 L453.50,368.41 L453.90,369.69 L454.00,369.95 L454.20,370.03 L454.50,368.83 L454.60,368.09 L455.00,357.96 L455.30,353.41 L455.50,352.50 L456.00,357.93 L456.50,370.58 L456.70,375.78 L457.00,383.09 L457.40,386.33 L457.50,385.27 L458.00,375.51 L458.10,373.26 L458.80,361.72 L459.00,361.00 L459.50,365.36 L460.00,375.95 L460.20,380.59 L460.90,390.72 L461.00,390.89 L461.60,390.76 L462.30,390.55 L462.50,390.48 L463.00,389.43 L463.70,385.86 L463.75,385.57 L464.40,382.23 L465.00,381.00 L465.10,381.04 L465.80,383.12 L466.25,385.59 L466.50,387.02 L467.20,389.92 L467.50,390.26 L467.90,390.27 L468.60,390.28 L469.30,390.23 L470.00,390.14 L470.20,390.07 L470.70,382.37 L471.10,369.34 L471.40,359.01 L472.00,348.70 L472.10,349.01 L472.80,365.72 L472.90,369.30 L473.00,372.88 L473.50,378.89 L473.70,379.03 L473.80,378.64 L474.20,375.56 L474.60,366.31 L474.90,354.42 L475.50,342.50 L475.60,342.86 L476.00,351.04 L476.30,362.25 L476.40,366.40 L476.90,374.58 L477.00,374.85 L477.30,375.15 L477.70,370.45 L477.80,366.37 L478.40,345.69 L478.50,343.94 L478.70,342.50 L479.00,345.69 L479.10,348.07 L479.60,366.30 L479.80,370.05 L480.00,370.00 L480.50,371.26 L481.20,374.74 L481.50,375.48 L481.90,375.15 L482.00,374.86 L482.60,372.65 L483.00,372.00 L483.30,372.43 L484.00,376.42 L484.50,380.83 L484.70,382.67 L485.40,388.10 L486.00,390.00 L486.10,390.03 L486.50,390.18 L486.80,388.48 L487.50,373.14 L487.60,370.27 L488.20,354.96 L488.70,350.00 L488.90,350.82 L489.60,364.52 L489.80,370.19 L490.30,383.26 L490.90,389.98 L491.00,389.94 L491.70,389.76 L492.00,389.71 L492.40,382.73 L492.65,373.60 L493.10,359.35 L493.30,357.50 L493.30,393.4 L100.40,393.4 Z" fill="#f6bfc2" fill-opacity="0.68" stroke="none"/>
<path d="M100.40,390.33 L101.10,390.32 L101.80,390.29 L102.50,390.25 L103.20,390.21 L103.90,390.18 L104.60,390.17 L105.30,390.12 L106.00,390.03 L106.70,389.91 L107.40,389.81 L108.10,389.76 L108.80,389.78 L109.50,389.98 L110.20,390.30 L110.90,390.66 L111.60,390.93 L112.30,391.06 L113.00,390.98 L113.70,390.69 L114.40,390.29 L115.10,389.88 L115.80,389.60 L116.50,389.51 L117.20,389.60 L117.90,389.79 L118.60,390.03 L119.30,390.25 L120.00,390.38 L120.70,390.41 L121.40,390.51 L122.10,390.68 L122.80,390.87 L123.50,391.03 L124.20,391.11 L124.90,391.06 L125.60,390.81 L126.30,390.44 L127.00,390.05 L127.70,389.75 L128.40,389.65 L129.10,389.71 L129.50,389.79 L129.80,389.38 L130.50,384.74 L131.20,376.21 L131.50,371.95 L131.90,366.27 L132.60,357.93 L133.30,353.73 L133.50,353.50 L134.00,354.91 L134.70,361.14 L135.40,370.59 L135.50,372.05 L136.10,380.48 L136.80,387.85 L137.50,390.43 L138.20,390.17 L138.90,389.89 L139.60,389.67 L140.30,389.58 L141.00,389.61 L141.70,389.72 L142.40,389.88 L143.10,390.04 L143.80,390.15 L144.50,390.18 L145.20,390.24 L145.90,390.36 L146.60,390.52 L147.30,390.66 L148.00,390.75 L148.70,390.76 L149.40,390.70 L150.10,390.59 L150.80,390.47 L151.50,390.37 L152.20,390.32 L152.90,390.33 L153.60,390.41 L154.30,390.54 L155.00,390.67 L155.70,390.77 L156.40,390.81 L157.10,390.73 L157.80,390.53 L158.50,390.25 L159.20,389.99 L159.90,389.82 L160.60,389.78 L161.30,389.80 L162.00,389.83 L162.70,389.87 L163.40,389.91 L164.10,389.93 L164.80,389.92 L165.50,389.89 L166.20,389.83 L166.90,389.77 L167.60,389.72 L168.30,389.70 L169.00,389.74 L169.70,389.87 L170.40,390.06 L171.10,390.24 L171.80,390.37 L172.50,390.41 L173.20,390.48 L173.90,390.64 L174.60,390.85 L175.30,391.03 L176.00,391.14 L176.70,391.15 L177.40,391.08 L178.10,390.93 L178.80,390.77 L179.50,390.63 L180.20,390.57 L180.90,390.58 L181.60,390.63 L182.10,390.69 L182.30,390.48 L183.00,386.28 L183.70,378.36 L183.75,377.74 L184.40,370.12 L185.10,365.13 L185.40,364.60 L185.80,365.53 L186.50,371.08 L187.05,377.49 L187.20,379.30 L187.90,386.68 L188.60,390.14 L188.70,390.20 L189.30,390.27 L190.00,390.42 L190.70,390.59 L191.40,390.75 L192.10,390.83 L192.80,390.81 L193.50,390.64 L194.20,390.35 L194.90,390.04 L195.60,389.79 L196.30,389.68 L197.00,389.70 L197.70,389.76 L198.40,389.85 L199.10,389.94 L199.80,390.01 L200.50,390.03 L201.20,390.09 L201.90,390.24 L202.60,390.42 L203.30,390.59 L204.00,390.70 L204.70,390.71 L205.40,390.73 L206.10,390.75 L206.80,390.77 L207.50,390.80 L208.20,390.81 L208.90,390.79 L209.60,390.69 L210.30,390.55 L211.00,390.41 L211.70,390.30 L212.40,390.26 L213.10,390.21 L213.80,390.10 L214.50,389.93 L215.20,389.78 L215.90,389.68 L216.60,389.66 L217.30,389.70 L218.00,389.77 L218.70,389.86 L219.40,389.93 L220.10,389.98 L220.80,389.98 L221.50,389.96 L222.20,389.94 L222.90,389.91 L223.60,389.89 L224.30,389.88 L225.00,389.88 L225.70,389.91 L226.40,389.94 L227.10,389.98 L227.80,390.00 L228.50,390.01 L229.20,390.10 L229.90,390.30 L230.60,390.56 L231.30,390.79 L232.00,390.93 L232.70,390.94 L233.40,390.80 L234.10,390.54 L234.80,390.24 L235.50,389.99 L236.20,389.87 L236.90,389.91 L237.60,390.11 L238.30,390.43 L239.00,390.76 L239.70,387.60 L240.40,378.91 L240.65,375.15 L241.10,368.52 L241.80,360.97 L242.30,359.20 L242.50,359.49 L243.20,364.70 L243.90,374.38 L243.95,375.14 L244.60,384.38 L245.30,390.26 L245.60,390.78 L246.00,390.57 L246.70,390.17 L247.40,389.82 L248.10,389.62 L248.80,389.61 L249.50,389.70 L250.20,389.84 L250.90,390.00 L251.60,390.13 L252.30,390.18 L253.00,390.19 L253.70,390.23 L254.40,390.28 L255.10,390.34 L255.80,390.37 L256.50,390.38 L257.20,390.30 L257.50,390.24 L257.90,388.94 L258.60,381.67 L259.15,373.36 L259.30,371.02 L260.00,361.50 L260.70,357.07 L260.80,357.00 L261.40,359.59 L262.10,368.04 L262.45,373.46 L262.80,378.91 L263.50,387.54 L264.10,390.25 L264.20,390.26 L264.90,390.30 L265.00,390.31 L265.60,390.38 L266.30,390.37 L267.00,390.17 L267.70,389.77 L268.00,389.56 L268.40,389.24 L269.10,388.69 L269.80,388.26 L270.50,388.04 L271.00,388.00 L271.20,388.01 L271.90,388.10 L272.60,388.28 L273.30,388.58 L274.00,389.00 L274.70,389.52 L275.40,390.04 L276.10,390.42 L276.80,390.55 L277.00,390.53 L277.50,390.42 L278.20,390.21 L278.90,389.98 L279.60,389.80 L280.30,389.72 L281.00,389.76 L281.60,389.89 L281.70,389.91 L282.40,389.66 L283.10,388.82 L283.80,387.83 L284.50,387.31 L284.60,387.30 L285.20,387.61 L285.90,388.65 L286.10,389.03 L286.60,389.98 L287.30,390.92 L287.60,391.06 L288.00,391.10 L288.70,391.09 L289.40,390.93 L290.10,390.63 L290.80,390.30 L291.50,390.01 L292.20,389.87 L292.90,389.85 L293.60,389.79 L294.30,389.70 L295.00,389.61 L295.20,389.59 L295.70,382.53 L296.35,358.26 L296.40,356.12 L297.10,331.55 L297.50,327.00 L297.80,329.59 L297.90,331.55 L298.50,351.93 L298.65,358.30 L299.15,374.03 L299.20,374.54 L299.80,372.66 L299.90,371.88 L300.40,370.00 L300.60,370.31 L301.30,375.67 L301.65,379.92 L302.00,384.21 L302.20,386.37 L302.70,388.98 L302.90,388.52 L303.20,387.15 L303.40,386.19 L304.00,384.16 L304.10,384.04 L304.20,384.00 L304.80,385.33 L305.20,386.63 L305.25,386.72 L305.50,386.89 L306.20,386.14 L306.50,386.00 L306.90,386.24 L307.60,387.47 L307.75,387.80 L308.10,388.53 L308.30,388.61 L309.00,383.15 L309.35,378.42 L309.70,373.69 L310.40,367.65 L310.60,367.30 L311.10,369.43 L311.80,377.77 L311.85,378.47 L312.50,386.62 L313.10,389.71 L313.20,389.57 L313.90,381.19 L314.25,373.84 L314.60,366.44 L315.30,357.85 L315.40,357.70 L316.00,362.89 L316.55,374.05 L316.70,377.38 L317.40,389.15 L317.70,390.58 L318.10,390.69 L318.80,390.89 L318.90,390.92 L319.50,387.29 L320.05,379.22 L320.20,376.80 L320.90,368.29 L321.20,367.30 L321.50,368.28 L321.60,369.02 L322.00,373.66 L322.30,378.17 L322.35,378.75 L322.75,381.50 L323.00,381.42 L323.50,379.18 L323.70,378.43 L324.00,378.00 L324.40,378.58 L324.75,379.47 L325.10,380.01 L325.25,380.06 L325.80,379.77 L326.00,379.81 L326.50,380.98 L327.20,384.60 L327.25,384.84 L327.90,387.39 L328.10,387.81 L328.50,386.45 L328.60,385.57 L329.30,371.87 L329.35,370.64 L330.00,356.33 L330.60,351.00 L330.70,351.16 L331.00,353.44 L331.40,360.04 L331.85,366.13 L332.00,366.57 L332.10,366.34 L332.80,359.35 L333.00,358.60 L333.10,358.80 L333.50,363.27 L334.00,374.46 L334.20,379.31 L334.90,384.52 L335.00,384.50 L335.60,384.31 L336.30,384.01 L336.75,377.54 L337.00,373.49 L337.70,365.85 L337.90,365.40 L338.00,365.51 L338.40,368.17 L339.05,377.86 L339.10,378.72 L339.80,384.14 L340.00,384.23 L340.20,384.28 L340.50,384.21 L341.15,377.44 L341.20,376.55 L341.90,366.29 L342.00,365.47 L342.30,364.40 L342.60,365.46 L343.30,374.57 L343.45,377.15 L344.00,384.21 L344.20,384.80 L344.60,384.34 L344.70,383.78 L345.35,368.06 L345.40,366.57 L345.50,363.62 L346.00,351.12 L346.10,349.40 L346.50,346.20 L346.75,347.47 L346.80,348.03 L347.00,351.15 L347.50,363.84 L347.65,368.36 L348.00,378.00 L348.20,378.09 L348.70,380.25 L348.80,380.87 L348.90,381.07 L349.25,380.56 L349.60,372.06 L349.85,362.69 L350.30,346.51 L350.50,340.92 L351.00,334.60 L351.70,346.58 L352.00,357.15 L352.15,362.91 L352.40,372.39 L353.10,381.14 L353.30,381.17 L353.50,381.13 L353.80,381.01 L354.00,379.67 L354.50,376.96 L355.00,376.00 L355.10,376.04 L355.20,376.15 L355.90,369.63 L356.10,360.66 L356.50,343.63 L356.60,340.18 L357.00,332.06 L357.10,331.70 L357.30,333.12 L357.60,340.21 L358.00,353.27 L358.10,355.46 L358.50,354.43 L358.70,348.49 L359.10,334.78 L359.40,330.80 L360.10,350.44 L360.30,359.63 L360.80,364.92 L361.00,357.85 L361.20,347.89 L361.50,334.43 L361.90,327.00 L362.00,327.38 L362.20,330.08 L362.70,335.28 L362.80,333.99 L362.90,331.81 L363.50,317.30 L363.60,318.00 L363.70,320.09 L364.30,353.95 L365.00,389.84 L365.10,390.53 L365.70,390.40 L366.40,390.18 L367.10,389.97 L367.80,389.81 L368.50,389.77 L368.70,389.77 L369.20,386.94 L369.85,377.12 L369.90,376.25 L370.60,366.26 L371.00,364.40 L371.30,365.46 L372.00,374.59 L372.15,377.19 L372.50,383.08 L372.70,385.74 L373.30,385.95 L373.40,385.04 L373.50,384.11 L374.10,379.19 L374.50,378.00 L374.80,378.70 L375.50,384.57 L376.20,390.56 L376.50,391.29 L376.90,391.29 L377.60,391.29 L378.30,391.29 L379.00,391.29 L379.70,391.30 L380.40,391.30 L381.10,391.18 L381.80,390.87 L382.50,390.45 L383.20,390.04 L383.90,389.78 L384.60,389.72 L385.30,389.84 L386.00,390.08 L386.70,390.37 L387.40,390.62 L388.10,390.76 L388.80,390.78 L389.50,390.85 L390.20,390.96 L390.90,391.08 L391.60,391.17 L392.30,391.21 L393.00,391.14 L393.70,390.90 L394.40,390.57 L395.10,390.23 L395.80,390.00 L396.50,389.93 L397.20,389.99 L397.90,390.13 L398.60,390.32 L399.30,390.48 L400.00,390.58 L400.70,390.59 L401.40,390.45 L402.10,390.21 L402.80,389.93 L403.50,389.70 L404.20,389.58 L404.90,389.60 L405.60,389.70 L406.30,389.85 L407.00,390.00 L407.70,390.12 L408.40,390.16 L409.10,390.20 L409.80,390.31 L410.50,390.46 L411.20,390.60 L411.90,390.69 L412.60,390.71 L413.00,390.71 L413.30,390.32 L414.00,386.98 L414.25,385.32 L414.70,382.46 L415.40,380.04 L415.50,380.00 L416.10,381.43 L416.75,385.28 L416.80,385.62 L417.50,389.61 L418.00,390.68 L418.20,390.70 L418.90,390.79 L419.60,390.86 L420.30,390.89 L421.00,390.83 L421.70,390.60 L422.40,390.28 L423.10,389.95 L423.80,389.72 L424.50,389.66 L425.00,389.68 L425.20,389.41 L425.90,384.40 L426.25,380.43 L426.60,376.43 L427.30,371.30 L427.50,371.00 L428.00,372.83 L428.70,379.97 L428.75,380.57 L429.40,387.65 L430.00,390.45 L430.10,390.48 L430.80,390.73 L431.50,390.94 L432.20,391.05 L432.90,385.63 L433.35,378.24 L433.60,373.96 L434.30,365.97 L434.50,365.50 L435.00,368.32 L435.65,378.05 L435.70,378.90 L436.40,388.73 L436.80,390.55 L437.00,390.54 L437.10,390.53 L437.80,390.17 L438.50,389.32 L439.20,388.07 L439.90,386.49 L440.00,386.24 L440.60,384.26 L440.80,383.42 L441.30,378.57 L441.50,375.95 L441.90,366.64 L442.00,363.28 L442.50,348.77 L442.70,345.14 L443.00,343.00 L443.40,346.75 L444.10,366.61 L444.80,372.06 L445.00,372.00 L445.20,372.07 L445.50,372.45 L445.80,373.14 L446.00,373.66 L446.20,373.87 L446.90,361.08 L447.50,338.52 L447.60,335.96 L448.00,331.20 L448.30,333.91 L449.00,356.95 L449.10,361.21 L449.70,370.35 L449.80,370.29 L450.00,369.95 L450.20,369.40 L450.40,368.73 L450.50,368.43 L450.90,361.63 L451.10,353.41 L451.80,333.68 L452.00,332.50 L452.50,339.59 L453.10,361.48 L453.20,365.59 L453.50,368.41 L453.90,369.69 L454.00,369.95 L454.20,370.03 L454.50,368.83 L454.60,368.09 L455.00,357.96 L455.30,353.41 L455.50,352.50 L456.00,357.93 L456.50,370.58 L456.70,375.78 L457.00,383.09 L457.40,386.33 L457.50,385.27 L458.00,375.51 L458.10,373.26 L458.80,361.72 L459.00,361.00 L459.50,365.36 L460.00,375.95 L460.20,380.59 L460.90,390.72 L461.00,390.89 L461.60,390.76 L462.30,390.55 L462.50,390.48 L463.00,389.43 L463.70,385.86 L463.75,385.57 L464.40,382.23 L465.00,381.00 L465.10,381.04 L465.80,383.12 L466.25,385.59 L466.50,387.02 L467.20,389.92 L467.50,390.26 L467.90,390.27 L468.60,390.28 L469.30,390.23 L470.00,390.14 L470.20,390.07 L470.70,382.37 L471.10,369.34 L471.40,359.01 L472.00,348.70 L472.10,349.01 L472.80,365.72 L472.90,369.30 L473.00,372.88 L473.50,378.89 L473.70,379.03 L473.80,378.64 L474.20,375.56 L474.60,366.31 L474.90,354.42 L475.50,342.50 L475.60,342.86 L476.00,351.04 L476.30,362.25 L476.40,366.40 L476.90,374.58 L477.00,374.85 L477.30,375.15 L477.70,370.45 L477.80,366.37 L478.40,345.69 L478.50,343.94 L478.70,342.50 L479.00,345.69 L479.10,348.07 L479.60,366.30 L479.80,370.05 L480.00,370.00 L480.50,371.26 L481.20,374.74 L481.50,375.48 L481.90,375.15 L482.00,374.86 L482.60,372.65 L483.00,372.00 L483.30,372.43 L484.00,376.42 L484.50,380.83 L484.70,382.67 L485.40,388.10 L486.00,390.00 L486.10,390.03 L486.50,390.18 L486.80,388.48 L487.50,373.14 L487.60,370.27 L488.20,354.96 L488.70,350.00 L488.90,350.82 L489.60,364.52 L489.80,370.19 L490.30,383.26 L490.90,389.98 L491.00,389.94 L491.70,389.76 L492.00,389.71 L492.40,382.73 L492.65,373.60 L493.10,359.35 L493.30,357.50" fill="none" stroke="#ee6b70" stroke-width="0.85" stroke-opacity="1" stroke-linejoin="round"/>
<path d="M100.40,391.17 L101.10,391.18 L101.80,391.20 L102.50,391.22 L103.20,391.24 L103.90,391.25 L104.60,391.31 L105.30,391.39 L106.00,391.44 L106.70,391.45 L107.40,391.39 L108.10,391.29 L108.80,391.21 L109.50,391.18 L110.20,391.18 L110.90,391.19 L111.60,391.20 L112.30,391.20 L113.00,391.21 L113.70,391.22 L114.40,391.24 L115.10,391.25 L115.80,391.24 L116.50,391.18 L117.20,391.09 L117.90,391.02 L118.60,391.01 L119.30,391.05 L120.00,391.12 L120.70,391.18 L121.40,391.20 L122.10,391.21 L122.80,391.23 L123.50,391.26 L124.20,391.27 L124.90,391.28 L125.60,391.31 L126.30,391.34 L127.00,391.37 L127.70,391.36 L128.40,391.26 L129.10,391.12 L129.80,390.99 L130.50,390.95 L131.20,390.97 L131.90,391.01 L132.60,391.05 L133.30,391.07 L134.00,391.06 L134.70,391.02 L135.40,390.98 L136.10,390.95 L136.80,390.96 L137.50,391.07 L138.20,391.22 L138.90,391.34 L139.60,391.37 L140.30,391.36 L141.00,391.33 L141.70,391.31 L142.40,391.30 L143.10,391.25 L143.80,391.13 L144.50,390.99 L145.20,390.91 L145.90,390.95 L146.60,391.10 L147.30,391.30 L148.00,391.45 L148.70,391.47 L149.40,391.47 L150.10,391.46 L150.80,391.46 L151.50,391.46 L152.20,391.43 L152.90,391.36 L153.60,391.30 L154.30,391.27 L155.00,391.27 L155.70,391.26 L156.40,391.25 L157.10,391.24 L157.80,391.23 L158.50,391.16 L159.20,391.06 L159.90,390.98 L160.60,390.96 L161.30,390.95 L162.00,390.92 L162.70,390.89 L163.40,390.88 L164.10,390.92 L164.80,391.01 L165.50,391.12 L166.20,391.18 L166.90,391.16 L167.60,391.08 L168.30,390.98 L169.00,390.91 L169.70,390.90 L170.40,390.92 L171.10,390.94 L171.80,390.97 L172.50,390.97 L173.20,390.98 L173.90,390.99 L174.60,391.00 L175.30,391.00 L176.00,390.99 L176.70,390.95 L177.40,390.90 L178.10,390.87 L178.80,390.88 L179.50,390.95 L180.20,391.04 L180.90,391.11 L181.60,391.13 L182.30,391.12 L183.00,391.12 L183.70,391.11 L184.40,391.11 L185.10,391.14 L185.80,391.22 L186.50,391.30 L187.20,391.34 L187.90,391.33 L188.60,391.28 L189.30,391.21 L190.00,391.16 L190.70,391.15 L191.40,391.17 L192.10,391.19 L192.80,391.21 L193.50,391.22 L194.20,391.20 L194.90,391.17 L195.60,391.15 L196.30,391.13 L197.00,391.14 L197.70,391.17 L198.40,391.20 L199.10,391.22 L199.80,391.22 L200.50,391.19 L201.20,391.14 L201.90,391.11 L202.60,391.10 L203.30,391.07 L204.00,391.04 L204.70,391.00 L205.40,390.99 L206.10,391.04 L206.80,391.18 L207.50,391.33 L208.20,391.41 L208.90,391.41 L209.60,391.41 L210.30,391.41 L211.00,391.41 L211.70,391.41 L212.40,391.38 L213.10,391.35 L213.80,391.32 L214.50,391.31 L215.20,391.30 L215.90,391.27 L216.60,391.24 L217.30,391.23 L218.00,391.21 L218.70,391.13 L219.40,391.05 L220.10,391.00 L220.80,390.99 L221.50,390.97 L222.20,390.95 L222.90,390.94 L223.60,390.93 L224.30,390.94 L225.00,390.95 L225.70,390.96 L226.40,390.97 L227.10,390.95 L227.80,390.90 L228.50,390.86 L229.20,390.83 L229.90,390.86 L230.60,390.97 L231.30,391.12 L232.00,391.23 L232.70,391.24 L233.40,391.19 L234.10,391.11 L234.80,391.04 L235.50,391.02 L236.20,391.06 L236.90,391.15 L237.60,391.24 L238.30,391.28 L239.00,391.26 L239.70,391.17 L240.40,391.07 L241.10,391.01 L241.80,391.02 L242.50,391.10 L243.20,391.23 L243.90,391.32 L244.60,391.34 L245.30,391.33 L246.00,391.30 L246.70,391.28 L247.40,391.27 L248.10,391.21 L248.80,391.04 L249.50,390.87 L250.20,390.77 L250.90,390.77 L251.60,390.80 L252.30,390.85 L253.00,390.88 L253.70,390.89 L254.40,390.99 L255.10,391.14 L255.80,391.26 L256.50,391.30 L257.20,391.26 L257.90,391.17 L258.60,391.08 L259.30,391.03 L260.00,391.06 L260.70,391.15 L261.40,391.26 L262.10,391.33 L262.80,391.32 L263.50,391.23 L264.20,391.10 L264.90,391.01 L265.60,390.98 L266.30,390.94 L267.00,390.87 L267.70,390.81 L268.40,390.78 L269.10,390.83 L269.80,390.93 L270.50,391.05 L271.20,391.11 L271.90,391.12 L272.60,391.15 L273.30,391.18 L274.00,391.20 L274.70,391.19 L275.40,391.12 L276.10,391.02 L276.80,390.92 L277.50,390.89 L278.20,390.87 L278.90,390.84 L279.60,390.80 L280.30,390.78 L281.00,390.79 L281.70,390.84 L282.40,390.89 L283.10,390.92 L283.80,390.94 L284.50,391.04 L285.20,391.17 L285.90,391.28 L286.60,391.30 L287.30,391.28 L288.00,391.23 L288.70,391.19 L289.40,391.18 L290.10,391.13 L290.80,391.00 L291.50,390.87 L292.20,390.79 L292.90,390.79 L293.60,390.82 L294.30,390.84 L295.00,390.86 L295.70,390.86 L296.40,390.84 L297.10,390.81 L297.80,390.78 L298.50,390.78 L299.20,390.77 L299.90,390.76 L300.60,390.75 L301.30,390.75 L302.00,390.79 L302.70,390.92 L303.40,391.08 L304.10,391.18 L304.80,391.17 L305.50,391.08 L306.20,390.94 L306.90,390.84 L307.60,390.82 L308.30,390.86 L309.00,390.94 L309.70,391.01 L310.40,391.04 L311.10,391.03 L311.80,391.01 L312.50,390.99 L313.20,390.98 L313.90,390.96 L314.60,390.92 L315.30,390.87 L316.00,390.83 L316.70,390.83 L317.40,390.90 L318.10,391.01 L318.80,391.11 L319.50,391.14 L320.20,391.08 L320.90,390.96 L321.60,390.84 L322.30,390.78 L323.00,390.81 L323.70,390.90 L324.40,391.01 L325.10,391.08 L325.80,391.07 L326.50,390.99 L327.20,390.88 L327.90,390.79 L328.60,390.77 L329.30,390.81 L330.00,390.87 L330.70,390.93 L331.40,390.95 L332.10,390.94 L332.80,390.90 L333.50,390.85 L334.20,390.83 L334.90,390.83 L335.60,390.84 L336.30,390.85 L337.00,390.86 L337.70,390.87 L338.40,390.97 L339.10,391.12 L339.80,391.24 L340.50,391.27 L341.20,391.20 L341.90,391.06 L342.60,390.88 L343.30,390.69 L344.00,390.46 L344.70,390.16 L345.40,389.83 L346.10,389.55 L346.80,389.36 L347.50,389.28 L348.20,389.27 L348.90,389.27 L349.60,389.23 L350.30,389.08 L351.00,388.27 L351.70,386.96 L352.40,385.60 L353.10,384.62 L353.80,384.28 L354.50,384.49 L355.20,384.99 L355.90,385.66 L356.60,386.38 L357.30,386.96 L358.00,387.20 L358.70,386.89 L359.40,385.97 L360.10,384.67 L360.80,383.32 L361.50,382.23 L362.20,381.59 L362.90,381.57 L363.00,381.63 L363.60,378.72 L364.20,370.56 L364.30,368.96 L365.00,359.53 L365.40,357.70 L365.70,358.77 L366.40,368.25 L366.60,371.96 L367.10,380.73 L367.50,385.29 L367.80,386.13 L368.50,383.83 L368.75,382.69 L369.20,380.71 L369.90,379.03 L370.00,379.00 L370.60,380.02 L371.25,382.88 L371.30,383.13 L372.00,386.24 L372.50,387.18 L372.70,387.25 L373.40,387.49 L374.10,387.76 L374.30,387.85 L374.80,385.79 L375.50,376.44 L375.80,371.16 L376.20,364.14 L376.90,355.31 L377.30,353.80 L377.60,354.66 L378.30,362.57 L378.80,371.33 L379.00,374.98 L379.70,385.54 L380.30,388.88 L380.40,388.88 L381.10,388.77 L381.80,388.59 L382.50,388.38 L383.20,388.14 L383.90,387.93 L384.60,387.78 L385.30,387.65 L386.00,386.71 L386.70,385.12 L387.40,383.49 L388.10,382.43 L388.80,382.38 L389.50,383.57 L390.20,385.55 L390.90,387.57 L391.60,388.84 L392.30,389.01 L393.00,388.94 L393.70,388.88 L394.40,388.85 L395.10,388.89 L395.80,388.96 L396.50,389.05 L397.20,389.10 L397.90,389.10 L398.60,389.08 L399.30,389.04 L400.00,389.02 L400.70,389.03 L401.40,389.06 L402.10,389.10 L402.80,389.13 L403.50,389.15 L404.20,389.22 L404.90,389.34 L405.60,389.46 L406.30,389.53 L407.00,389.53 L407.70,389.46 L408.40,389.38 L409.10,389.33 L409.80,389.35 L410.50,389.38 L411.20,389.41 L411.90,389.44 L412.60,389.47 L413.30,389.51 L414.00,389.59 L414.70,389.65 L415.40,389.69 L416.10,389.64 L416.80,389.52 L417.50,389.38 L418.20,389.31 L418.90,389.31 L419.60,389.30 L420.30,389.30 L421.00,389.29 L421.70,389.29 L422.40,389.37 L423.10,389.51 L423.80,389.62 L424.50,389.63 L425.20,389.58 L425.90,389.52 L426.60,389.45 L427.30,389.40 L428.00,389.31 L428.70,389.16 L429.40,388.98 L430.10,388.85 L430.80,388.79 L431.50,388.72 L432.20,388.66 L432.90,388.60 L433.40,388.56 L433.60,387.67 L434.30,372.22 L434.80,353.66 L435.00,345.89 L435.70,324.07 L436.20,318.70 L436.40,319.58 L437.10,335.08 L437.60,353.71 L437.80,361.50 L438.50,383.38 L439.00,388.77 L439.20,388.77 L439.90,388.73 L440.60,388.61 L441.30,388.45 L442.00,388.34 L442.70,388.33 L443.40,388.43 L444.10,388.59 L444.80,388.73 L445.50,388.77 L446.20,388.76 L446.90,388.75 L447.60,388.74 L448.30,388.73 L449.00,388.71 L449.70,388.66 L450.40,388.60 L451.10,388.57 L451.80,388.56 L452.50,388.53 L453.20,388.49 L453.90,388.46 L454.60,388.45 L455.30,388.41 L456.00,388.35 L456.20,388.33 L456.70,385.46 L457.40,374.41 L457.45,373.48 L458.10,362.71 L458.70,358.70 L458.80,358.82 L459.50,365.55 L459.95,373.46 L460.20,378.02 L460.90,387.22 L461.20,388.31 L461.60,388.41 L462.30,388.61 L463.00,388.75 L463.70,388.77 L464.40,388.67 L465.10,388.52 L465.80,388.38 L466.50,388.34 L467.20,388.39 L467.90,388.48 L468.60,388.58 L469.30,388.62 L470.00,388.60 L470.70,388.52 L471.10,388.46 L471.40,385.92 L472.10,363.47 L472.40,349.78 L472.80,331.86 L473.50,312.32 L473.70,311.20 L474.20,318.05 L474.90,345.29 L475.00,349.97 L475.60,375.70 L476.30,388.75 L476.70,388.73 L477.00,387.97 L477.70,381.85 L478.40,375.75 L478.50,375.34 L478.70,375.00 L479.10,376.31 L479.50,378.86 L479.70,379.32 L479.80,379.34 L480.50,378.00 L480.60,377.96 L480.70,377.83 L481.20,373.34 L481.50,361.16 L481.80,349.40 L481.90,346.21 L482.00,343.50 L482.50,329.33 L482.60,326.93 L483.00,322.50 L483.30,325.02 L483.50,329.33 L484.00,340.26 L484.20,340.99 L484.40,341.84 L484.70,342.07 L485.00,339.87 L485.40,333.98 L485.50,333.70 L486.10,343.08 L486.50,357.40 L486.60,361.34 L486.80,362.08 L487.00,362.00 L487.50,363.74 L487.70,365.47 L488.20,371.33 L488.30,372.69 L488.50,375.19 L488.90,377.41 L489.40,373.22 L489.60,369.97 L490.00,363.51 L490.30,360.58 L490.50,360.00 L491.00,363.51 L491.60,374.38 L491.70,376.43 L492.40,387.51 L492.70,388.82 L493.10,388.83 L493.10,393.4 L100.40,393.4 Z" fill="#b8bbee" fill-opacity="0.72" stroke="none"/>
<path d="M100.40,391.17 L101.10,391.18 L101.80,391.20 L102.50,391.22 L103.20,391.24 L103.90,391.25 L104.60,391.31 L105.30,391.39 L106.00,391.44 L106.70,391.45 L107.40,391.39 L108.10,391.29 L108.80,391.21 L109.50,391.18 L110.20,391.18 L110.90,391.19 L111.60,391.20 L112.30,391.20 L113.00,391.21 L113.70,391.22 L114.40,391.24 L115.10,391.25 L115.80,391.24 L116.50,391.18 L117.20,391.09 L117.90,391.02 L118.60,391.01 L119.30,391.05 L120.00,391.12 L120.70,391.18 L121.40,391.20 L122.10,391.21 L122.80,391.23 L123.50,391.26 L124.20,391.27 L124.90,391.28 L125.60,391.31 L126.30,391.34 L127.00,391.37 L127.70,391.36 L128.40,391.26 L129.10,391.12 L129.80,390.99 L130.50,390.95 L131.20,390.97 L131.90,391.01 L132.60,391.05 L133.30,391.07 L134.00,391.06 L134.70,391.02 L135.40,390.98 L136.10,390.95 L136.80,390.96 L137.50,391.07 L138.20,391.22 L138.90,391.34 L139.60,391.37 L140.30,391.36 L141.00,391.33 L141.70,391.31 L142.40,391.30 L143.10,391.25 L143.80,391.13 L144.50,390.99 L145.20,390.91 L145.90,390.95 L146.60,391.10 L147.30,391.30 L148.00,391.45 L148.70,391.47 L149.40,391.47 L150.10,391.46 L150.80,391.46 L151.50,391.46 L152.20,391.43 L152.90,391.36 L153.60,391.30 L154.30,391.27 L155.00,391.27 L155.70,391.26 L156.40,391.25 L157.10,391.24 L157.80,391.23 L158.50,391.16 L159.20,391.06 L159.90,390.98 L160.60,390.96 L161.30,390.95 L162.00,390.92 L162.70,390.89 L163.40,390.88 L164.10,390.92 L164.80,391.01 L165.50,391.12 L166.20,391.18 L166.90,391.16 L167.60,391.08 L168.30,390.98 L169.00,390.91 L169.70,390.90 L170.40,390.92 L171.10,390.94 L171.80,390.97 L172.50,390.97 L173.20,390.98 L173.90,390.99 L174.60,391.00 L175.30,391.00 L176.00,390.99 L176.70,390.95 L177.40,390.90 L178.10,390.87 L178.80,390.88 L179.50,390.95 L180.20,391.04 L180.90,391.11 L181.60,391.13 L182.30,391.12 L183.00,391.12 L183.70,391.11 L184.40,391.11 L185.10,391.14 L185.80,391.22 L186.50,391.30 L187.20,391.34 L187.90,391.33 L188.60,391.28 L189.30,391.21 L190.00,391.16 L190.70,391.15 L191.40,391.17 L192.10,391.19 L192.80,391.21 L193.50,391.22 L194.20,391.20 L194.90,391.17 L195.60,391.15 L196.30,391.13 L197.00,391.14 L197.70,391.17 L198.40,391.20 L199.10,391.22 L199.80,391.22 L200.50,391.19 L201.20,391.14 L201.90,391.11 L202.60,391.10 L203.30,391.07 L204.00,391.04 L204.70,391.00 L205.40,390.99 L206.10,391.04 L206.80,391.18 L207.50,391.33 L208.20,391.41 L208.90,391.41 L209.60,391.41 L210.30,391.41 L211.00,391.41 L211.70,391.41 L212.40,391.38 L213.10,391.35 L213.80,391.32 L214.50,391.31 L215.20,391.30 L215.90,391.27 L216.60,391.24 L217.30,391.23 L218.00,391.21 L218.70,391.13 L219.40,391.05 L220.10,391.00 L220.80,390.99 L221.50,390.97 L222.20,390.95 L222.90,390.94 L223.60,390.93 L224.30,390.94 L225.00,390.95 L225.70,390.96 L226.40,390.97 L227.10,390.95 L227.80,390.90 L228.50,390.86 L229.20,390.83 L229.90,390.86 L230.60,390.97 L231.30,391.12 L232.00,391.23 L232.70,391.24 L233.40,391.19 L234.10,391.11 L234.80,391.04 L235.50,391.02 L236.20,391.06 L236.90,391.15 L237.60,391.24 L238.30,391.28 L239.00,391.26 L239.70,391.17 L240.40,391.07 L241.10,391.01 L241.80,391.02 L242.50,391.10 L243.20,391.23 L243.90,391.32 L244.60,391.34 L245.30,391.33 L246.00,391.30 L246.70,391.28 L247.40,391.27 L248.10,391.21 L248.80,391.04 L249.50,390.87 L250.20,390.77 L250.90,390.77 L251.60,390.80 L252.30,390.85 L253.00,390.88 L253.70,390.89 L254.40,390.99 L255.10,391.14 L255.80,391.26 L256.50,391.30 L257.20,391.26 L257.90,391.17 L258.60,391.08 L259.30,391.03 L260.00,391.06 L260.70,391.15 L261.40,391.26 L262.10,391.33 L262.80,391.32 L263.50,391.23 L264.20,391.10 L264.90,391.01 L265.60,390.98 L266.30,390.94 L267.00,390.87 L267.70,390.81 L268.40,390.78 L269.10,390.83 L269.80,390.93 L270.50,391.05 L271.20,391.11 L271.90,391.12 L272.60,391.15 L273.30,391.18 L274.00,391.20 L274.70,391.19 L275.40,391.12 L276.10,391.02 L276.80,390.92 L277.50,390.89 L278.20,390.87 L278.90,390.84 L279.60,390.80 L280.30,390.78 L281.00,390.79 L281.70,390.84 L282.40,390.89 L283.10,390.92 L283.80,390.94 L284.50,391.04 L285.20,391.17 L285.90,391.28 L286.60,391.30 L287.30,391.28 L288.00,391.23 L288.70,391.19 L289.40,391.18 L290.10,391.13 L290.80,391.00 L291.50,390.87 L292.20,390.79 L292.90,390.79 L293.60,390.82 L294.30,390.84 L295.00,390.86 L295.70,390.86 L296.40,390.84 L297.10,390.81 L297.80,390.78 L298.50,390.78 L299.20,390.77 L299.90,390.76 L300.60,390.75 L301.30,390.75 L302.00,390.79 L302.70,390.92 L303.40,391.08 L304.10,391.18 L304.80,391.17 L305.50,391.08 L306.20,390.94 L306.90,390.84 L307.60,390.82 L308.30,390.86 L309.00,390.94 L309.70,391.01 L310.40,391.04 L311.10,391.03 L311.80,391.01 L312.50,390.99 L313.20,390.98 L313.90,390.96 L314.60,390.92 L315.30,390.87 L316.00,390.83 L316.70,390.83 L317.40,390.90 L318.10,391.01 L318.80,391.11 L319.50,391.14 L320.20,391.08 L320.90,390.96 L321.60,390.84 L322.30,390.78 L323.00,390.81 L323.70,390.90 L324.40,391.01 L325.10,391.08 L325.80,391.07 L326.50,390.99 L327.20,390.88 L327.90,390.79 L328.60,390.77 L329.30,390.81 L330.00,390.87 L330.70,390.93 L331.40,390.95 L332.10,390.94 L332.80,390.90 L333.50,390.85 L334.20,390.83 L334.90,390.83 L335.60,390.84 L336.30,390.85 L337.00,390.86 L337.70,390.87 L338.40,390.97 L339.10,391.12 L339.80,391.24 L340.50,391.27 L341.20,391.20 L341.90,391.06 L342.60,390.88 L343.30,390.69 L344.00,390.46 L344.70,390.16 L345.40,389.83 L346.10,389.55 L346.80,389.36 L347.50,389.28 L348.20,389.27 L348.90,389.27 L349.60,389.23 L350.30,389.08 L351.00,388.27 L351.70,386.96 L352.40,385.60 L353.10,384.62 L353.80,384.28 L354.50,384.49 L355.20,384.99 L355.90,385.66 L356.60,386.38 L357.30,386.96 L358.00,387.20 L358.70,386.89 L359.40,385.97 L360.10,384.67 L360.80,383.32 L361.50,382.23 L362.20,381.59 L362.90,381.57 L363.00,381.63 L363.60,378.72 L364.20,370.56 L364.30,368.96 L365.00,359.53 L365.40,357.70 L365.70,358.77 L366.40,368.25 L366.60,371.96 L367.10,380.73 L367.50,385.29 L367.80,386.13 L368.50,383.83 L368.75,382.69 L369.20,380.71 L369.90,379.03 L370.00,379.00 L370.60,380.02 L371.25,382.88 L371.30,383.13 L372.00,386.24 L372.50,387.18 L372.70,387.25 L373.40,387.49 L374.10,387.76 L374.30,387.85 L374.80,385.79 L375.50,376.44 L375.80,371.16 L376.20,364.14 L376.90,355.31 L377.30,353.80 L377.60,354.66 L378.30,362.57 L378.80,371.33 L379.00,374.98 L379.70,385.54 L380.30,388.88 L380.40,388.88 L381.10,388.77 L381.80,388.59 L382.50,388.38 L383.20,388.14 L383.90,387.93 L384.60,387.78 L385.30,387.65 L386.00,386.71 L386.70,385.12 L387.40,383.49 L388.10,382.43 L388.80,382.38 L389.50,383.57 L390.20,385.55 L390.90,387.57 L391.60,388.84 L392.30,389.01 L393.00,388.94 L393.70,388.88 L394.40,388.85 L395.10,388.89 L395.80,388.96 L396.50,389.05 L397.20,389.10 L397.90,389.10 L398.60,389.08 L399.30,389.04 L400.00,389.02 L400.70,389.03 L401.40,389.06 L402.10,389.10 L402.80,389.13 L403.50,389.15 L404.20,389.22 L404.90,389.34 L405.60,389.46 L406.30,389.53 L407.00,389.53 L407.70,389.46 L408.40,389.38 L409.10,389.33 L409.80,389.35 L410.50,389.38 L411.20,389.41 L411.90,389.44 L412.60,389.47 L413.30,389.51 L414.00,389.59 L414.70,389.65 L415.40,389.69 L416.10,389.64 L416.80,389.52 L417.50,389.38 L418.20,389.31 L418.90,389.31 L419.60,389.30 L420.30,389.30 L421.00,389.29 L421.70,389.29 L422.40,389.37 L423.10,389.51 L423.80,389.62 L424.50,389.63 L425.20,389.58 L425.90,389.52 L426.60,389.45 L427.30,389.40 L428.00,389.31 L428.70,389.16 L429.40,388.98 L430.10,388.85 L430.80,388.79 L431.50,388.72 L432.20,388.66 L432.90,388.60 L433.40,388.56 L433.60,387.67 L434.30,372.22 L434.80,353.66 L435.00,345.89 L435.70,324.07 L436.20,318.70 L436.40,319.58 L437.10,335.08 L437.60,353.71 L437.80,361.50 L438.50,383.38 L439.00,388.77 L439.20,388.77 L439.90,388.73 L440.60,388.61 L441.30,388.45 L442.00,388.34 L442.70,388.33 L443.40,388.43 L444.10,388.59 L444.80,388.73 L445.50,388.77 L446.20,388.76 L446.90,388.75 L447.60,388.74 L448.30,388.73 L449.00,388.71 L449.70,388.66 L450.40,388.60 L451.10,388.57 L451.80,388.56 L452.50,388.53 L453.20,388.49 L453.90,388.46 L454.60,388.45 L455.30,388.41 L456.00,388.35 L456.20,388.33 L456.70,385.46 L457.40,374.41 L457.45,373.48 L458.10,362.71 L458.70,358.70 L458.80,358.82 L459.50,365.55 L459.95,373.46 L460.20,378.02 L460.90,387.22 L461.20,388.31 L461.60,388.41 L462.30,388.61 L463.00,388.75 L463.70,388.77 L464.40,388.67 L465.10,388.52 L465.80,388.38 L466.50,388.34 L467.20,388.39 L467.90,388.48 L468.60,388.58 L469.30,388.62 L470.00,388.60 L470.70,388.52 L471.10,388.46 L471.40,385.92 L472.10,363.47 L472.40,349.78 L472.80,331.86 L473.50,312.32 L473.70,311.20 L474.20,318.05 L474.90,345.29 L475.00,349.97 L475.60,375.70 L476.30,388.75 L476.70,388.73 L477.00,387.97 L477.70,381.85 L478.40,375.75 L478.50,375.34 L478.70,375.00 L479.10,376.31 L479.50,378.86 L479.70,379.32 L479.80,379.34 L480.50,378.00 L480.60,377.96 L480.70,377.83 L481.20,373.34 L481.50,361.16 L481.80,349.40 L481.90,346.21 L482.00,343.50 L482.50,329.33 L482.60,326.93 L483.00,322.50 L483.30,325.02 L483.50,329.33 L484.00,340.26 L484.20,340.99 L484.40,341.84 L484.70,342.07 L485.00,339.87 L485.40,333.98 L485.50,333.70 L486.10,343.08 L486.50,357.40 L486.60,361.34 L486.80,362.08 L487.00,362.00 L487.50,363.74 L487.70,365.47 L488.20,371.33 L488.30,372.69 L488.50,375.19 L488.90,377.41 L489.40,373.22 L489.60,369.97 L490.00,363.51 L490.30,360.58 L490.50,360.00 L491.00,363.51 L491.60,374.38 L491.70,376.43 L492.40,387.51 L492.70,388.82 L493.10,388.83" fill="none" stroke="#5b72e2" stroke-width="0.85" stroke-opacity="1" stroke-linejoin="round"/>
<rect x="100.4" y="390.7" width="393.1" height="2.7" fill="#bcb0db" fill-opacity="0.75"/>
<line x1="100.4" y1="391.0" x2="493.5" y2="391.0" stroke="#8177c9" stroke-width="0.6"/>
<text x="70" y="410.8" font-size="7.8" text-anchor="end" fill="#222" textLength="43.2" lengthAdjust="spacingAndGlyphs" >BRD4-bound</text>
<text x="70" y="420.8" font-size="7.8" text-anchor="end" fill="#222" textLength="31.5" lengthAdjust="spacingAndGlyphs" >enhancer</text>
<line x1="309.2" y1="410" x2="350.6" y2="410" stroke="#000" stroke-width="2"/>
<line x1="355.4" y1="410" x2="371.7" y2="410" stroke="#000" stroke-width="2"/>
<line x1="101.2" y1="428.2" x2="497.8" y2="428.2" stroke="#000" stroke-width="1"/>
<line x1="137.3" y1="428.2" x2="137.3" y2="431.4" stroke="#000" stroke-width="0.8"/>
<text x="137.3" y="441.9" font-size="7.8" text-anchor="middle" fill="#222" textLength="28.8" lengthAdjust="spacingAndGlyphs" >22.40Mb</text>
<line x1="209.4" y1="428.2" x2="209.4" y2="431.4" stroke="#000" stroke-width="0.8"/>
<text x="209.4" y="441.9" font-size="7.8" text-anchor="middle" fill="#222" textLength="28.8" lengthAdjust="spacingAndGlyphs" >22.60Mb</text>
<line x1="281.5" y1="428.2" x2="281.5" y2="431.4" stroke="#000" stroke-width="0.8"/>
<text x="281.5" y="441.9" font-size="7.8" text-anchor="middle" fill="#222" textLength="28.8" lengthAdjust="spacingAndGlyphs" >22.80Mb</text>
<line x1="353.6" y1="428.2" x2="353.6" y2="431.4" stroke="#000" stroke-width="0.8"/>
<text x="353.6" y="441.9" font-size="7.8" text-anchor="middle" fill="#222" textLength="28.8" lengthAdjust="spacingAndGlyphs" >23.00Mb</text>
<line x1="425.7" y1="428.2" x2="425.7" y2="431.4" stroke="#000" stroke-width="0.8"/>
<text x="425.7" y="441.9" font-size="7.8" text-anchor="middle" fill="#222" textLength="28.8" lengthAdjust="spacingAndGlyphs" >23.20Mb</text>
<line x1="497.8" y1="428.2" x2="497.8" y2="431.4" stroke="#000" stroke-width="0.8"/>
<text x="497.8" y="441.9" font-size="7.8" text-anchor="middle" fill="#222" textLength="28.8" lengthAdjust="spacingAndGlyphs" >23.40Mb</text>
<text x="259.6" y="455.4" font-size="10.2" text-anchor="start" fill="#111" textLength="81.7" lengthAdjust="spacingAndGlyphs" >chr 14 position (Mb)</text>
<text x="65.4" y="483.1" font-size="11.5" text-anchor="start" fill="#111" textLength="5.6" lengthAdjust="spacingAndGlyphs" style="stroke-width:0.45px">B</text>
<text x="295.6" y="483.4" font-size="11.5" text-anchor="start" fill="#111" textLength="7.4" lengthAdjust="spacingAndGlyphs" style="stroke-width:0.45px">C</text>
<text x="127.7" y="488.6" font-size="7" text-anchor="start" fill="#222" textLength="78.3" lengthAdjust="spacingAndGlyphs" >MMP14 in DLBCL tumors</text>
<text x="135.4" y="497.3" font-size="7" text-anchor="start" fill="#222" textLength="62.5" lengthAdjust="spacingAndGlyphs" >&#946; = -0.60, P = 0.006</text>
<text x="364.4" y="488.6" font-size="7" text-anchor="start" fill="#222" textLength="76" lengthAdjust="spacingAndGlyphs" >PRMT5 in DLBCL tumors</text>
<text x="373" y="497.3" font-size="7" text-anchor="start" fill="#222" textLength="59.3" lengthAdjust="spacingAndGlyphs" >&#946; = 0.29, P = 0.008</text>
<text transform="translate(92.3,613) rotate(-90)" x="0" y="0" font-size="9.5" fill="#222" textLength="135" lengthAdjust="spacingAndGlyphs">Gene expression, log<tspan font-size="6.5" dy="2">2</tspan><tspan dy="-2"> (RPKM + 2)</tspan></text>
<text transform="translate(317.2,611.5) rotate(-90)" x="0" y="0" font-size="9.5" fill="#222" textLength="134.5" lengthAdjust="spacingAndGlyphs">Gene expression, log<tspan font-size="6.5" dy="2">2</tspan><tspan dy="-2"> (RPKM + 2)</tspan></text>
<line x1="111" y1="511.3" x2="111" y2="579.8" stroke="#111" stroke-width="1.1"/>
<line x1="108.2" y1="513.6" x2="111" y2="513.6" stroke="#222" stroke-width="0.9"/>
<text x="104.4" y="515.95" font-size="6.6" text-anchor="end" fill="#222" textLength="3.7" lengthAdjust="spacingAndGlyphs" >6</text>
<line x1="108.2" y1="526.6" x2="111" y2="526.6" stroke="#222" stroke-width="0.9"/>
<text x="104.4" y="528.95" font-size="6.6" text-anchor="end" fill="#222" textLength="3.7" lengthAdjust="spacingAndGlyphs" >5</text>
<line x1="108.2" y1="539.2" x2="111" y2="539.2" stroke="#222" stroke-width="0.9"/>
<text x="104.4" y="541.55" font-size="6.6" text-anchor="end" fill="#222" textLength="3.7" lengthAdjust="spacingAndGlyphs" >4</text>
<line x1="108.2" y1="551.8" x2="111" y2="551.8" stroke="#222" stroke-width="0.9"/>
<text x="104.4" y="554.15" font-size="6.6" text-anchor="end" fill="#222" textLength="3.7" lengthAdjust="spacingAndGlyphs" >3</text>
<line x1="108.2" y1="564.1" x2="111" y2="564.1" stroke="#222" stroke-width="0.9"/>
<text x="104.4" y="566.45" font-size="6.6" text-anchor="end" fill="#222" textLength="3.7" lengthAdjust="spacingAndGlyphs" >2</text>
<line x1="108.2" y1="577" x2="111" y2="577" stroke="#222" stroke-width="0.9"/>
<text x="104.4" y="579.35" font-size="6.6" text-anchor="end" fill="#222" textLength="3.7" lengthAdjust="spacingAndGlyphs" >1</text>
<line x1="343.5" y1="511.9" x2="343.5" y2="576" stroke="#111" stroke-width="1.1"/>
<line x1="340.7" y1="514.5" x2="343.5" y2="514.5" stroke="#222" stroke-width="0.9"/>
<text x="337.2" y="516.85" font-size="6.6" text-anchor="end" fill="#222" textLength="9.8" lengthAdjust="spacingAndGlyphs" >2.5</text>
<line x1="340.7" y1="526.2" x2="343.5" y2="526.2" stroke="#222" stroke-width="0.9"/>
<text x="337.2" y="528.55" font-size="6.6" text-anchor="end" fill="#222" textLength="9.8" lengthAdjust="spacingAndGlyphs" >2.0</text>
<line x1="340.7" y1="538.1" x2="343.5" y2="538.1" stroke="#222" stroke-width="0.9"/>
<text x="337.2" y="540.45" font-size="6.6" text-anchor="end" fill="#222" textLength="9.8" lengthAdjust="spacingAndGlyphs" >1.5</text>
<line x1="340.7" y1="549.6" x2="343.5" y2="549.6" stroke="#222" stroke-width="0.9"/>
<text x="337.2" y="551.95" font-size="6.6" text-anchor="end" fill="#222" textLength="9.8" lengthAdjust="spacingAndGlyphs" >1.0</text>
<line x1="340.7" y1="561.5" x2="343.5" y2="561.5" stroke="#222" stroke-width="0.9"/>
<text x="337.2" y="563.85" font-size="6.6" text-anchor="end" fill="#222" textLength="9.8" lengthAdjust="spacingAndGlyphs" >0.5</text>
<line x1="340.7" y1="573" x2="343.5" y2="573" stroke="#222" stroke-width="0.9"/>
<text x="337.2" y="575.35" font-size="6.6" text-anchor="end" fill="#222" textLength="9.8" lengthAdjust="spacingAndGlyphs" >0.0</text>
<line x1="133.6" y1="512.9" x2="133.6" y2="524.1" stroke="#222" stroke-width="0.8" stroke-dasharray="1.2 1.2"/>
<line x1="133.6" y1="545" x2="133.6" y2="559.5" stroke="#222" stroke-width="0.8" stroke-dasharray="1.2 1.2"/>
<line x1="126.35" y1="512.9" x2="140.85" y2="512.9" stroke="#4a4a4a" stroke-width="1.3"/>
<line x1="126.35" y1="559.5" x2="140.85" y2="559.5" stroke="#4a4a4a" stroke-width="1.3"/>
<rect x="119.2" y="524.1" width="28.89999999999999" height="20.899999999999977" fill="#a3002a"/>
<line x1="119.2" y1="527.4" x2="148.1" y2="527.4" stroke="#000" stroke-width="1.5"/>
<line x1="170" y1="518.4" x2="170" y2="528.1" stroke="#222" stroke-width="0.8" stroke-dasharray="1.2 1.2"/>
<line x1="170" y1="549.9" x2="170" y2="571.2" stroke="#222" stroke-width="0.8" stroke-dasharray="1.2 1.2"/>
<line x1="162.8" y1="518.4" x2="177.2" y2="518.4" stroke="#4a4a4a" stroke-width="1.3"/>
<line x1="162.8" y1="571.2" x2="177.2" y2="571.2" stroke="#4a4a4a" stroke-width="1.3"/>
<rect x="155.8" y="528.1" width="29.0" height="21.799999999999955" fill="#2e4c7d"/>
<line x1="155.8" y1="539.3" x2="184.8" y2="539.3" stroke="#000" stroke-width="1.5"/>
<line x1="206.6" y1="524.7" x2="206.6" y2="539.9" stroke="#222" stroke-width="0.8" stroke-dasharray="1.2 1.2"/>
<line x1="206.6" y1="563" x2="206.6" y2="574.5" stroke="#222" stroke-width="0.8" stroke-dasharray="1.2 1.2"/>
<line x1="199.45" y1="524.7" x2="213.75" y2="524.7" stroke="#4a4a4a" stroke-width="1.3"/>
<line x1="199.45" y1="574.5" x2="213.75" y2="574.5" stroke="#4a4a4a" stroke-width="1.3"/>
<rect x="192.3" y="539.9" width="28.899999999999977" height="23.100000000000023" fill="#6aa642"/>
<line x1="192.3" y1="545.5" x2="221.2" y2="545.5" stroke="#000" stroke-width="1.5"/>
<circle cx="133.4" cy="575.7" r="1.1" fill="#000"/>
<line x1="365.8" y1="535.2" x2="365.8" y2="546.5" stroke="#222" stroke-width="0.8" stroke-dasharray="1.2 1.2"/>
<line x1="365.8" y1="563" x2="365.8" y2="576" stroke="#222" stroke-width="0.8" stroke-dasharray="1.2 1.2"/>
<line x1="358.90000000000003" y1="535.2" x2="372.7" y2="535.2" stroke="#4a4a4a" stroke-width="1.3"/>
<line x1="358.90000000000003" y1="576" x2="372.7" y2="576" stroke="#4a4a4a" stroke-width="1.3"/>
<rect x="351.5" y="546.5" width="29.0" height="16.5" fill="#a3002a"/>
<line x1="351.5" y1="557.6" x2="380.5" y2="557.6" stroke="#000" stroke-width="1.5"/>
<line x1="402.6" y1="513" x2="402.6" y2="533.5" stroke="#222" stroke-width="0.8" stroke-dasharray="1.2 1.2"/>
<line x1="402.6" y1="556.2" x2="402.6" y2="570.8" stroke="#222" stroke-width="0.8" stroke-dasharray="1.2 1.2"/>
<line x1="395.55" y1="513" x2="409.65000000000003" y2="513" stroke="#4a4a4a" stroke-width="1.3"/>
<line x1="395.55" y1="570.8" x2="409.65000000000003" y2="570.8" stroke="#4a4a4a" stroke-width="1.3"/>
<rect x="388" y="533.5" width="28.899999999999977" height="22.700000000000045" fill="#2e4c7d"/>
<line x1="388" y1="543.5" x2="416.9" y2="543.5" stroke="#000" stroke-width="1.5"/>
<line x1="438.8" y1="538.2" x2="438.8" y2="540.1" stroke="#222" stroke-width="0.8" stroke-dasharray="1.2 1.2"/>
<line x1="438.8" y1="547.6" x2="438.8" y2="549.8" stroke="#222" stroke-width="0.8" stroke-dasharray="1.2 1.2"/>
<line x1="431.45" y1="538.2" x2="446.15000000000003" y2="538.2" stroke="#4a4a4a" stroke-width="1.3"/>
<line x1="431.45" y1="549.8" x2="446.15000000000003" y2="549.8" stroke="#4a4a4a" stroke-width="1.3"/>
<rect x="424.3" y="540.1" width="29.099999999999966" height="7.5" fill="#6aa642"/>
<line x1="424.3" y1="545.3" x2="453.4" y2="545.3" stroke="#000" stroke-width="1.5"/>
<circle cx="438.8" cy="521.9" r="1.1" fill="#000"/>
<circle cx="438.8" cy="527.3" r="1.1" fill="#000"/>
<circle cx="438.8" cy="566.2" r="1.1" fill="#000"/>
<line x1="133.6" y1="578.5" x2="206.6" y2="578.5" stroke="#222" stroke-width="0.9"/>
<line x1="133.6" y1="578.5" x2="133.6" y2="581.3" stroke="#222" stroke-width="0.9"/>
<line x1="170" y1="578.5" x2="170" y2="581.3" stroke="#222" stroke-width="0.9"/>
<line x1="206.6" y1="578.5" x2="206.6" y2="581.3" stroke="#222" stroke-width="0.9"/>
<line x1="365.8" y1="578.5" x2="438.8" y2="578.5" stroke="#222" stroke-width="0.9"/>
<line x1="365.8" y1="578.5" x2="365.8" y2="581.3" stroke="#222" stroke-width="0.9"/>
<line x1="402.6" y1="578.5" x2="402.6" y2="581.3" stroke="#222" stroke-width="0.9"/>
<line x1="438.8" y1="578.5" x2="438.8" y2="581.3" stroke="#222" stroke-width="0.9"/>
<text transform="translate(137.79999999999998,589.2) rotate(-45)" x="0" y="0" font-size="7.8" fill="#222" text-anchor="end" textLength="38" lengthAdjust="spacingAndGlyphs">Loss (n=19)</text>
<text transform="translate(174.2,589.2) rotate(-45)" x="0" y="0" font-size="7.8" fill="#222" text-anchor="end" textLength="49" lengthAdjust="spacingAndGlyphs">No CNV (n=42)</text>
<text transform="translate(210.79999999999998,589.2) rotate(-45)" x="0" y="0" font-size="7.8" fill="#222" text-anchor="end" textLength="37" lengthAdjust="spacingAndGlyphs">Gain (n=11)</text>
<text transform="translate(370.0,589.2) rotate(-45)" x="0" y="0" font-size="7.8" fill="#222" text-anchor="end" textLength="38" lengthAdjust="spacingAndGlyphs">Loss (n=19)</text>
<text transform="translate(406.8,589.2) rotate(-45)" x="0" y="0" font-size="7.8" fill="#222" text-anchor="end" textLength="49" lengthAdjust="spacingAndGlyphs">No CNV (n=42)</text>
<text transform="translate(443.0,589.2) rotate(-45)" x="0" y="0" font-size="7.8" fill="#222" text-anchor="end" textLength="37" lengthAdjust="spacingAndGlyphs">Gain (n=11)</text>
</svg>
</body></html>
